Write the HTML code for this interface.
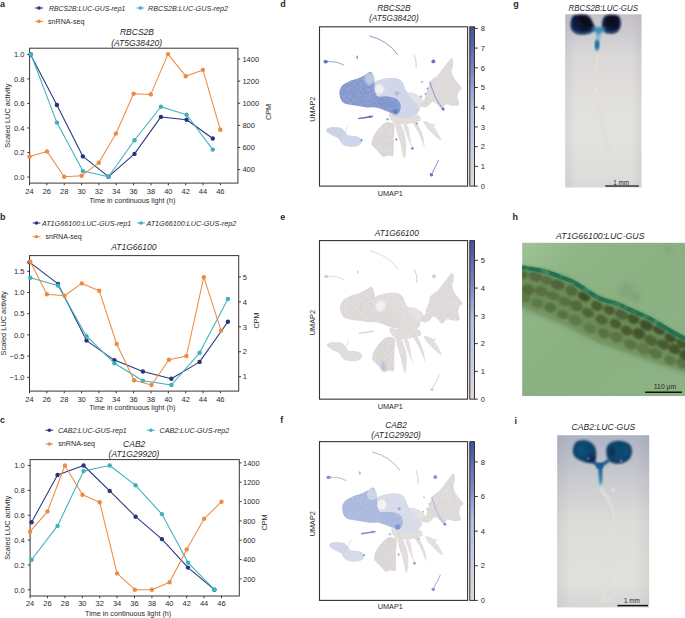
<!DOCTYPE html><html><head><meta charset="utf-8"><title>Figure</title><style>html,body{margin:0;padding:0;background:#fff;width:685px;height:618px;overflow:hidden}svg{display:block}text{font-family:"Liberation Sans",sans-serif;fill:#2a2a2a}</style></head><body>
<svg xmlns="http://www.w3.org/2000/svg" width="685" height="618" viewBox="0 0 685 618">
<rect width="685" height="618" fill="#fff"/>
<text x="0" y="7" font-size="9" font-weight="bold">a</text>
<text x="0" y="219.8" font-size="9" font-weight="bold">b</text>
<text x="0" y="423" font-size="9" font-weight="bold">c</text>
<rect x="29.6" y="48.2" width="208.3" height="134.9" fill="none" stroke="#3d3636" stroke-width="1"/>
<line x1="29.5" y1="183.1" x2="29.5" y2="185.3" stroke="#3d3636" stroke-width="1"/>
<text x="29.5" y="193.6" font-size="7.5" text-anchor="middle">24</text>
<line x1="46.85" y1="183.1" x2="46.85" y2="185.3" stroke="#3d3636" stroke-width="1"/>
<text x="46.85" y="193.6" font-size="7.5" text-anchor="middle">26</text>
<line x1="64.21" y1="183.1" x2="64.21" y2="185.3" stroke="#3d3636" stroke-width="1"/>
<text x="64.21" y="193.6" font-size="7.5" text-anchor="middle">28</text>
<line x1="81.56" y1="183.1" x2="81.56" y2="185.3" stroke="#3d3636" stroke-width="1"/>
<text x="81.56" y="193.6" font-size="7.5" text-anchor="middle">30</text>
<line x1="98.92" y1="183.1" x2="98.92" y2="185.3" stroke="#3d3636" stroke-width="1"/>
<text x="98.92" y="193.6" font-size="7.5" text-anchor="middle">32</text>
<line x1="116.27" y1="183.1" x2="116.27" y2="185.3" stroke="#3d3636" stroke-width="1"/>
<text x="116.27" y="193.6" font-size="7.5" text-anchor="middle">34</text>
<line x1="133.62" y1="183.1" x2="133.62" y2="185.3" stroke="#3d3636" stroke-width="1"/>
<text x="133.62" y="193.6" font-size="7.5" text-anchor="middle">36</text>
<line x1="150.98" y1="183.1" x2="150.98" y2="185.3" stroke="#3d3636" stroke-width="1"/>
<text x="150.98" y="193.6" font-size="7.5" text-anchor="middle">38</text>
<line x1="168.33" y1="183.1" x2="168.33" y2="185.3" stroke="#3d3636" stroke-width="1"/>
<text x="168.33" y="193.6" font-size="7.5" text-anchor="middle">40</text>
<line x1="185.69" y1="183.1" x2="185.69" y2="185.3" stroke="#3d3636" stroke-width="1"/>
<text x="185.69" y="193.6" font-size="7.5" text-anchor="middle">42</text>
<line x1="203.04" y1="183.1" x2="203.04" y2="185.3" stroke="#3d3636" stroke-width="1"/>
<text x="203.04" y="193.6" font-size="7.5" text-anchor="middle">44</text>
<line x1="220.39" y1="183.1" x2="220.39" y2="185.3" stroke="#3d3636" stroke-width="1"/>
<text x="220.39" y="193.6" font-size="7.5" text-anchor="middle">46</text>
<line x1="27.3" y1="177" x2="29.6" y2="177" stroke="#3d3636" stroke-width="1"/>
<text x="24.4" y="179.7" font-size="7.5" text-anchor="end">0.0</text>
<line x1="27.3" y1="152.48" x2="29.6" y2="152.48" stroke="#3d3636" stroke-width="1"/>
<text x="24.4" y="155.18" font-size="7.5" text-anchor="end">0.2</text>
<line x1="27.3" y1="127.96" x2="29.6" y2="127.96" stroke="#3d3636" stroke-width="1"/>
<text x="24.4" y="130.66" font-size="7.5" text-anchor="end">0.4</text>
<line x1="27.3" y1="103.44" x2="29.6" y2="103.44" stroke="#3d3636" stroke-width="1"/>
<text x="24.4" y="106.14" font-size="7.5" text-anchor="end">0.6</text>
<line x1="27.3" y1="78.92" x2="29.6" y2="78.92" stroke="#3d3636" stroke-width="1"/>
<text x="24.4" y="81.62" font-size="7.5" text-anchor="end">0.8</text>
<line x1="27.3" y1="54.4" x2="29.6" y2="54.4" stroke="#3d3636" stroke-width="1"/>
<text x="24.4" y="57.1" font-size="7.5" text-anchor="end">1.0</text>
<line x1="237.9" y1="169.6" x2="240.2" y2="169.6" stroke="#3d3636" stroke-width="1"/>
<text x="242.4" y="172.3" font-size="7.5">400</text>
<line x1="237.9" y1="147.48" x2="240.2" y2="147.48" stroke="#3d3636" stroke-width="1"/>
<text x="242.4" y="150.18" font-size="7.5">600</text>
<line x1="237.9" y1="125.36" x2="240.2" y2="125.36" stroke="#3d3636" stroke-width="1"/>
<text x="242.4" y="128.06" font-size="7.5">800</text>
<line x1="237.9" y1="103.24" x2="240.2" y2="103.24" stroke="#3d3636" stroke-width="1"/>
<text x="242.4" y="105.94" font-size="7.5">1000</text>
<line x1="237.9" y1="81.12" x2="240.2" y2="81.12" stroke="#3d3636" stroke-width="1"/>
<text x="242.4" y="83.82" font-size="7.5">1200</text>
<line x1="237.9" y1="59" x2="240.2" y2="59" stroke="#3d3636" stroke-width="1"/>
<text x="242.4" y="61.7" font-size="7.5">1400</text>
<text x="132.3" y="203.1" font-size="7.3" text-anchor="middle" textLength="86.2" lengthAdjust="spacingAndGlyphs">Time in continuous light (h)</text>
<text x="10.2" y="115.65" font-size="7.4" text-anchor="middle" transform="rotate(-90 10.2 115.65)">Scaled LUC activity</text>
<text x="270.8" y="112" font-size="7.3" text-anchor="middle" transform="rotate(-90 270.8 112)">CPM</text>
<polyline points="30.5,54.5 56.9,105 82.9,156.4 108.5,176.7 134.5,153.9 160.9,116.9 186.6,119.7 212.8,138.5" fill="none" stroke="#27357f" stroke-width="1.05" stroke-linejoin="round"/>
<circle cx="30.5" cy="54.5" r="2.2" fill="#27357f"/>
<circle cx="56.9" cy="105" r="2.2" fill="#27357f"/>
<circle cx="82.9" cy="156.4" r="2.2" fill="#27357f"/>
<circle cx="108.5" cy="176.7" r="2.2" fill="#27357f"/>
<circle cx="134.5" cy="153.9" r="2.2" fill="#27357f"/>
<circle cx="160.9" cy="116.9" r="2.2" fill="#27357f"/>
<circle cx="186.6" cy="119.7" r="2.2" fill="#27357f"/>
<circle cx="212.8" cy="138.5" r="2.2" fill="#27357f"/>
<polyline points="30.9,54.3 56.9,122.6 82.9,171.1 108.5,176.7 134.5,140.3 160.9,106.7 186.6,114.7 212.8,149.6" fill="none" stroke="#3db1ba" stroke-width="1.05" stroke-linejoin="round"/>
<circle cx="30.9" cy="54.3" r="2.2" fill="#3db1ba"/>
<circle cx="56.9" cy="122.6" r="2.2" fill="#3db1ba"/>
<circle cx="82.9" cy="171.1" r="2.2" fill="#3db1ba"/>
<circle cx="108.5" cy="176.7" r="2.2" fill="#3db1ba"/>
<circle cx="134.5" cy="140.3" r="2.2" fill="#3db1ba"/>
<circle cx="160.9" cy="106.7" r="2.2" fill="#3db1ba"/>
<circle cx="186.6" cy="114.7" r="2.2" fill="#3db1ba"/>
<circle cx="212.8" cy="149.6" r="2.2" fill="#3db1ba"/>
<polyline points="29.5,156.6 47,151.4 64.2,176.7 81.6,175.8 98.8,162.7 116,133.5 133.6,93.8 150.8,94.4 168,54.1 185.7,76.2 202.9,69.9 220.3,129.7" fill="none" stroke="#ec8b43" stroke-width="1.05" stroke-linejoin="round"/>
<circle cx="29.5" cy="156.6" r="2.2" fill="#ec8b43"/>
<circle cx="47" cy="151.4" r="2.2" fill="#ec8b43"/>
<circle cx="64.2" cy="176.7" r="2.2" fill="#ec8b43"/>
<circle cx="81.6" cy="175.8" r="2.2" fill="#ec8b43"/>
<circle cx="98.8" cy="162.7" r="2.2" fill="#ec8b43"/>
<circle cx="116" cy="133.5" r="2.2" fill="#ec8b43"/>
<circle cx="133.6" cy="93.8" r="2.2" fill="#ec8b43"/>
<circle cx="150.8" cy="94.4" r="2.2" fill="#ec8b43"/>
<circle cx="168" cy="54.1" r="2.2" fill="#ec8b43"/>
<circle cx="185.7" cy="76.2" r="2.2" fill="#ec8b43"/>
<circle cx="202.9" cy="69.9" r="2.2" fill="#ec8b43"/>
<circle cx="220.3" cy="129.7" r="2.2" fill="#ec8b43"/>
<line x1="35.1" y1="8" x2="43" y2="8" stroke="#27357f" stroke-width="1.05"/>
<circle cx="39.05" cy="8" r="1.8" fill="#27357f"/>
<text x="49.1" y="10.9" font-size="7.2" font-style="italic" textLength="76.2" lengthAdjust="spacingAndGlyphs">RBCS2B:LUC-GUS-rep1</text>
<line x1="136.6" y1="8" x2="144.2" y2="8" stroke="#3db1ba" stroke-width="1.05"/>
<circle cx="140.4" cy="8" r="1.8" fill="#3db1ba"/>
<text x="148" y="10.9" font-size="7.2" font-style="italic" textLength="80" lengthAdjust="spacingAndGlyphs">RBCS2B:LUC-GUS-rep2</text>
<line x1="35.1" y1="21.4" x2="43" y2="21.4" stroke="#ec8b43" stroke-width="1.05"/>
<circle cx="39.05" cy="21.4" r="1.8" fill="#ec8b43"/>
<text x="48" y="23.8" font-size="7.2" textLength="36.4" lengthAdjust="spacingAndGlyphs">snRNA-seq</text>
<text x="137" y="35.4" font-size="8.5" text-anchor="middle" font-style="italic">RBCS2B</text>
<text x="136.6" y="45.9" font-size="8.5" text-anchor="middle" font-style="italic">(AT5G38420)</text>
<rect x="29.5" y="255.6" width="209.2" height="135.5" fill="none" stroke="#3d3636" stroke-width="1"/>
<line x1="29.5" y1="391.1" x2="29.5" y2="393.3" stroke="#3d3636" stroke-width="1"/>
<text x="29.5" y="401.5" font-size="7.5" text-anchor="middle">24</text>
<line x1="46.85" y1="391.1" x2="46.85" y2="393.3" stroke="#3d3636" stroke-width="1"/>
<text x="46.85" y="401.5" font-size="7.5" text-anchor="middle">26</text>
<line x1="64.21" y1="391.1" x2="64.21" y2="393.3" stroke="#3d3636" stroke-width="1"/>
<text x="64.21" y="401.5" font-size="7.5" text-anchor="middle">28</text>
<line x1="81.56" y1="391.1" x2="81.56" y2="393.3" stroke="#3d3636" stroke-width="1"/>
<text x="81.56" y="401.5" font-size="7.5" text-anchor="middle">30</text>
<line x1="98.92" y1="391.1" x2="98.92" y2="393.3" stroke="#3d3636" stroke-width="1"/>
<text x="98.92" y="401.5" font-size="7.5" text-anchor="middle">32</text>
<line x1="116.27" y1="391.1" x2="116.27" y2="393.3" stroke="#3d3636" stroke-width="1"/>
<text x="116.27" y="401.5" font-size="7.5" text-anchor="middle">34</text>
<line x1="133.62" y1="391.1" x2="133.62" y2="393.3" stroke="#3d3636" stroke-width="1"/>
<text x="133.62" y="401.5" font-size="7.5" text-anchor="middle">36</text>
<line x1="150.98" y1="391.1" x2="150.98" y2="393.3" stroke="#3d3636" stroke-width="1"/>
<text x="150.98" y="401.5" font-size="7.5" text-anchor="middle">38</text>
<line x1="168.33" y1="391.1" x2="168.33" y2="393.3" stroke="#3d3636" stroke-width="1"/>
<text x="168.33" y="401.5" font-size="7.5" text-anchor="middle">40</text>
<line x1="185.69" y1="391.1" x2="185.69" y2="393.3" stroke="#3d3636" stroke-width="1"/>
<text x="185.69" y="401.5" font-size="7.5" text-anchor="middle">42</text>
<line x1="203.04" y1="391.1" x2="203.04" y2="393.3" stroke="#3d3636" stroke-width="1"/>
<text x="203.04" y="401.5" font-size="7.5" text-anchor="middle">44</text>
<line x1="220.39" y1="391.1" x2="220.39" y2="393.3" stroke="#3d3636" stroke-width="1"/>
<text x="220.39" y="401.5" font-size="7.5" text-anchor="middle">46</text>
<line x1="27.2" y1="377.3" x2="29.5" y2="377.3" stroke="#3d3636" stroke-width="1"/>
<text x="24.4" y="380" font-size="7.5" text-anchor="end">−1.0</text>
<line x1="27.2" y1="356.1" x2="29.5" y2="356.1" stroke="#3d3636" stroke-width="1"/>
<text x="24.4" y="358.8" font-size="7.5" text-anchor="end">−0.5</text>
<line x1="27.2" y1="334.9" x2="29.5" y2="334.9" stroke="#3d3636" stroke-width="1"/>
<text x="24.4" y="337.6" font-size="7.5" text-anchor="end">0.0</text>
<line x1="27.2" y1="313.7" x2="29.5" y2="313.7" stroke="#3d3636" stroke-width="1"/>
<text x="24.4" y="316.4" font-size="7.5" text-anchor="end">0.5</text>
<line x1="27.2" y1="292.5" x2="29.5" y2="292.5" stroke="#3d3636" stroke-width="1"/>
<text x="24.4" y="295.2" font-size="7.5" text-anchor="end">1.0</text>
<line x1="27.2" y1="271.3" x2="29.5" y2="271.3" stroke="#3d3636" stroke-width="1"/>
<text x="24.4" y="274" font-size="7.5" text-anchor="end">1.5</text>
<line x1="238.7" y1="376.7" x2="241" y2="376.7" stroke="#3d3636" stroke-width="1"/>
<text x="242.8" y="379.4" font-size="7.5">1</text>
<line x1="238.7" y1="351.75" x2="241" y2="351.75" stroke="#3d3636" stroke-width="1"/>
<text x="242.8" y="354.45" font-size="7.5">2</text>
<line x1="238.7" y1="326.8" x2="241" y2="326.8" stroke="#3d3636" stroke-width="1"/>
<text x="242.8" y="329.5" font-size="7.5">3</text>
<line x1="238.7" y1="301.85" x2="241" y2="301.85" stroke="#3d3636" stroke-width="1"/>
<text x="242.8" y="304.55" font-size="7.5">4</text>
<line x1="238.7" y1="276.9" x2="241" y2="276.9" stroke="#3d3636" stroke-width="1"/>
<text x="242.8" y="279.6" font-size="7.5">5</text>
<text x="132.3" y="409.9" font-size="7.3" text-anchor="middle" textLength="86.2" lengthAdjust="spacingAndGlyphs">Time in continuous light (h)</text>
<text x="6.3" y="323.35" font-size="7.4" text-anchor="middle" transform="rotate(-90 6.3 323.35)">Scaled LUC activity</text>
<text x="259" y="320.5" font-size="7.3" text-anchor="middle" transform="rotate(-90 259 320.5)">CPM</text>
<polyline points="29.5,262.2 58,283.9 86.5,340.6 114.4,360.1 142.9,371.5 171.4,378.8 199.6,361.9 227.9,321.8" fill="none" stroke="#27357f" stroke-width="1.05" stroke-linejoin="round"/>
<circle cx="29.5" cy="262.2" r="2.2" fill="#27357f"/>
<circle cx="58" cy="283.9" r="2.2" fill="#27357f"/>
<circle cx="86.5" cy="340.6" r="2.2" fill="#27357f"/>
<circle cx="114.4" cy="360.1" r="2.2" fill="#27357f"/>
<circle cx="142.9" cy="371.5" r="2.2" fill="#27357f"/>
<circle cx="171.4" cy="378.8" r="2.2" fill="#27357f"/>
<circle cx="199.6" cy="361.9" r="2.2" fill="#27357f"/>
<circle cx="227.9" cy="321.8" r="2.2" fill="#27357f"/>
<polyline points="30.3,277.7 58,285.5 86.5,336.2 114.4,363.2 142.9,380.8 171.4,385 199.6,352.8 227.9,299" fill="none" stroke="#3db1ba" stroke-width="1.05" stroke-linejoin="round"/>
<circle cx="30.3" cy="277.7" r="2.2" fill="#3db1ba"/>
<circle cx="58" cy="285.5" r="2.2" fill="#3db1ba"/>
<circle cx="86.5" cy="336.2" r="2.2" fill="#3db1ba"/>
<circle cx="114.4" cy="363.2" r="2.2" fill="#3db1ba"/>
<circle cx="142.9" cy="380.8" r="2.2" fill="#3db1ba"/>
<circle cx="171.4" cy="385" r="2.2" fill="#3db1ba"/>
<circle cx="199.6" cy="352.8" r="2.2" fill="#3db1ba"/>
<circle cx="227.9" cy="299" r="2.2" fill="#3db1ba"/>
<polyline points="30.3,261.7 46.9,294.3 64.5,295.8 81.8,283.4 99.2,290.7 116.7,344 134.1,380.3 151.5,385 169,359.8 186.4,356 203.8,277.2 221.1,330.6" fill="none" stroke="#ec8b43" stroke-width="1.05" stroke-linejoin="round"/>
<circle cx="30.3" cy="261.7" r="2.2" fill="#ec8b43"/>
<circle cx="46.9" cy="294.3" r="2.2" fill="#ec8b43"/>
<circle cx="64.5" cy="295.8" r="2.2" fill="#ec8b43"/>
<circle cx="81.8" cy="283.4" r="2.2" fill="#ec8b43"/>
<circle cx="99.2" cy="290.7" r="2.2" fill="#ec8b43"/>
<circle cx="116.7" cy="344" r="2.2" fill="#ec8b43"/>
<circle cx="134.1" cy="380.3" r="2.2" fill="#ec8b43"/>
<circle cx="151.5" cy="385" r="2.2" fill="#ec8b43"/>
<circle cx="169" cy="359.8" r="2.2" fill="#ec8b43"/>
<circle cx="186.4" cy="356" r="2.2" fill="#ec8b43"/>
<circle cx="203.8" cy="277.2" r="2.2" fill="#ec8b43"/>
<circle cx="221.1" cy="330.6" r="2.2" fill="#ec8b43"/>
<line x1="32.7" y1="223" x2="40.3" y2="223" stroke="#27357f" stroke-width="1.05"/>
<circle cx="36.5" cy="223" r="1.8" fill="#27357f"/>
<text x="41.9" y="225.8" font-size="7.2" font-style="italic" textLength="89.4" lengthAdjust="spacingAndGlyphs">AT1G66100:LUC-GUS-rep1</text>
<line x1="137.2" y1="223" x2="144.9" y2="223" stroke="#3db1ba" stroke-width="1.05"/>
<circle cx="141.05" cy="223" r="1.8" fill="#3db1ba"/>
<text x="146.4" y="225.8" font-size="7.2" font-style="italic" textLength="89.8" lengthAdjust="spacingAndGlyphs">AT1G66100:LUC-GUS-rep2</text>
<line x1="32.7" y1="236.7" x2="40.3" y2="236.7" stroke="#ec8b43" stroke-width="1.05"/>
<circle cx="36.5" cy="236.7" r="1.8" fill="#ec8b43"/>
<text x="45.4" y="238.9" font-size="7.2" textLength="36.3" lengthAdjust="spacingAndGlyphs">snRNA-seq</text>
<text x="133.8" y="250.3" font-size="8.5" text-anchor="middle" font-style="italic">AT1G66100</text>
<rect x="30.1" y="459.6" width="209.2" height="136.4" fill="none" stroke="#3d3636" stroke-width="1"/>
<line x1="30.1" y1="596" x2="30.1" y2="598.2" stroke="#3d3636" stroke-width="1"/>
<text x="30.1" y="606.4" font-size="7.5" text-anchor="middle">24</text>
<line x1="47.5" y1="596" x2="47.5" y2="598.2" stroke="#3d3636" stroke-width="1"/>
<text x="47.5" y="606.4" font-size="7.5" text-anchor="middle">26</text>
<line x1="64.9" y1="596" x2="64.9" y2="598.2" stroke="#3d3636" stroke-width="1"/>
<text x="64.9" y="606.4" font-size="7.5" text-anchor="middle">28</text>
<line x1="82.3" y1="596" x2="82.3" y2="598.2" stroke="#3d3636" stroke-width="1"/>
<text x="82.3" y="606.4" font-size="7.5" text-anchor="middle">30</text>
<line x1="99.7" y1="596" x2="99.7" y2="598.2" stroke="#3d3636" stroke-width="1"/>
<text x="99.7" y="606.4" font-size="7.5" text-anchor="middle">32</text>
<line x1="117.1" y1="596" x2="117.1" y2="598.2" stroke="#3d3636" stroke-width="1"/>
<text x="117.1" y="606.4" font-size="7.5" text-anchor="middle">34</text>
<line x1="134.5" y1="596" x2="134.5" y2="598.2" stroke="#3d3636" stroke-width="1"/>
<text x="134.5" y="606.4" font-size="7.5" text-anchor="middle">36</text>
<line x1="151.9" y1="596" x2="151.9" y2="598.2" stroke="#3d3636" stroke-width="1"/>
<text x="151.9" y="606.4" font-size="7.5" text-anchor="middle">38</text>
<line x1="169.3" y1="596" x2="169.3" y2="598.2" stroke="#3d3636" stroke-width="1"/>
<text x="169.3" y="606.4" font-size="7.5" text-anchor="middle">40</text>
<line x1="186.7" y1="596" x2="186.7" y2="598.2" stroke="#3d3636" stroke-width="1"/>
<text x="186.7" y="606.4" font-size="7.5" text-anchor="middle">42</text>
<line x1="204.1" y1="596" x2="204.1" y2="598.2" stroke="#3d3636" stroke-width="1"/>
<text x="204.1" y="606.4" font-size="7.5" text-anchor="middle">44</text>
<line x1="221.5" y1="596" x2="221.5" y2="598.2" stroke="#3d3636" stroke-width="1"/>
<text x="221.5" y="606.4" font-size="7.5" text-anchor="middle">46</text>
<line x1="27.8" y1="589.8" x2="30.1" y2="589.8" stroke="#3d3636" stroke-width="1"/>
<text x="24.6" y="592.5" font-size="7.5" text-anchor="end">0.0</text>
<line x1="27.8" y1="564.94" x2="30.1" y2="564.94" stroke="#3d3636" stroke-width="1"/>
<text x="24.6" y="567.64" font-size="7.5" text-anchor="end">0.2</text>
<line x1="27.8" y1="540.08" x2="30.1" y2="540.08" stroke="#3d3636" stroke-width="1"/>
<text x="24.6" y="542.78" font-size="7.5" text-anchor="end">0.4</text>
<line x1="27.8" y1="515.22" x2="30.1" y2="515.22" stroke="#3d3636" stroke-width="1"/>
<text x="24.6" y="517.92" font-size="7.5" text-anchor="end">0.6</text>
<line x1="27.8" y1="490.36" x2="30.1" y2="490.36" stroke="#3d3636" stroke-width="1"/>
<text x="24.6" y="493.06" font-size="7.5" text-anchor="end">0.8</text>
<line x1="27.8" y1="465.5" x2="30.1" y2="465.5" stroke="#3d3636" stroke-width="1"/>
<text x="24.6" y="468.2" font-size="7.5" text-anchor="end">1.0</text>
<line x1="239.3" y1="578.9" x2="241.6" y2="578.9" stroke="#3d3636" stroke-width="1"/>
<text x="243" y="581.6" font-size="7.5">200</text>
<line x1="239.3" y1="559.57" x2="241.6" y2="559.57" stroke="#3d3636" stroke-width="1"/>
<text x="243" y="562.27" font-size="7.5">400</text>
<line x1="239.3" y1="540.24" x2="241.6" y2="540.24" stroke="#3d3636" stroke-width="1"/>
<text x="243" y="542.94" font-size="7.5">600</text>
<line x1="239.3" y1="520.9" x2="241.6" y2="520.9" stroke="#3d3636" stroke-width="1"/>
<text x="243" y="523.6" font-size="7.5">800</text>
<line x1="239.3" y1="501.57" x2="241.6" y2="501.57" stroke="#3d3636" stroke-width="1"/>
<text x="243" y="504.27" font-size="7.5">1000</text>
<line x1="239.3" y1="482.23" x2="241.6" y2="482.23" stroke="#3d3636" stroke-width="1"/>
<text x="243" y="484.93" font-size="7.5">1200</text>
<line x1="239.3" y1="462.9" x2="241.6" y2="462.9" stroke="#3d3636" stroke-width="1"/>
<text x="243" y="465.6" font-size="7.5">1400</text>
<text x="128.1" y="616" font-size="7.3" text-anchor="middle" textLength="86.2" lengthAdjust="spacingAndGlyphs">Time in continuous light (h)</text>
<text x="10.5" y="527.8" font-size="7.4" text-anchor="middle" transform="rotate(-90 10.5 527.8)">Scaled LUC activity</text>
<text x="266.9" y="522.4" font-size="7.3" text-anchor="middle" transform="rotate(-90 266.9 522.4)">CPM</text>
<polyline points="31.6,522.2 57.5,475 83.6,465.5 109.7,490.9 135.6,516.7 161.9,539.1 188,567.6 214.4,589.7" fill="none" stroke="#27357f" stroke-width="1.05" stroke-linejoin="round"/>
<circle cx="31.6" cy="522.2" r="2.2" fill="#27357f"/>
<circle cx="57.5" cy="475" r="2.2" fill="#27357f"/>
<circle cx="83.6" cy="465.5" r="2.2" fill="#27357f"/>
<circle cx="109.7" cy="490.9" r="2.2" fill="#27357f"/>
<circle cx="135.6" cy="516.7" r="2.2" fill="#27357f"/>
<circle cx="161.9" cy="539.1" r="2.2" fill="#27357f"/>
<circle cx="188" cy="567.6" r="2.2" fill="#27357f"/>
<circle cx="214.4" cy="589.7" r="2.2" fill="#27357f"/>
<polyline points="31.6,559.7 57.5,525.9 83.6,471.1 109.7,465.5 135.6,485.3 161.9,514.1 188,562.6 214.4,589.7" fill="none" stroke="#3db1ba" stroke-width="1.05" stroke-linejoin="round"/>
<circle cx="31.6" cy="559.7" r="2.2" fill="#3db1ba"/>
<circle cx="57.5" cy="525.9" r="2.2" fill="#3db1ba"/>
<circle cx="83.6" cy="471.1" r="2.2" fill="#3db1ba"/>
<circle cx="109.7" cy="465.5" r="2.2" fill="#3db1ba"/>
<circle cx="135.6" cy="485.3" r="2.2" fill="#3db1ba"/>
<circle cx="161.9" cy="514.1" r="2.2" fill="#3db1ba"/>
<circle cx="188" cy="562.6" r="2.2" fill="#3db1ba"/>
<circle cx="214.4" cy="589.7" r="2.2" fill="#3db1ba"/>
<polyline points="30.1,531.7 47.5,511.4 64.9,465.5 82.5,494.8 99.7,502.2 117.1,573.4 134.8,589.7 151.9,589.7 169.6,582.3 186.7,549.4 204.1,518.8 221.5,501.7" fill="none" stroke="#ec8b43" stroke-width="1.05" stroke-linejoin="round"/>
<circle cx="30.1" cy="531.7" r="2.2" fill="#ec8b43"/>
<circle cx="47.5" cy="511.4" r="2.2" fill="#ec8b43"/>
<circle cx="64.9" cy="465.5" r="2.2" fill="#ec8b43"/>
<circle cx="82.5" cy="494.8" r="2.2" fill="#ec8b43"/>
<circle cx="99.7" cy="502.2" r="2.2" fill="#ec8b43"/>
<circle cx="117.1" cy="573.4" r="2.2" fill="#ec8b43"/>
<circle cx="134.8" cy="589.7" r="2.2" fill="#ec8b43"/>
<circle cx="151.9" cy="589.7" r="2.2" fill="#ec8b43"/>
<circle cx="169.6" cy="582.3" r="2.2" fill="#ec8b43"/>
<circle cx="186.7" cy="549.4" r="2.2" fill="#ec8b43"/>
<circle cx="204.1" cy="518.8" r="2.2" fill="#ec8b43"/>
<circle cx="221.5" cy="501.7" r="2.2" fill="#ec8b43"/>
<line x1="45.6" y1="430.2" x2="53.1" y2="430.2" stroke="#27357f" stroke-width="1.05"/>
<circle cx="49.35" cy="430.2" r="1.8" fill="#27357f"/>
<text x="57.9" y="432.8" font-size="7.2" font-style="italic" textLength="68.9" lengthAdjust="spacingAndGlyphs">CAB2:LUC-GUS-rep1</text>
<line x1="147.1" y1="430.3" x2="154.7" y2="430.3" stroke="#3db1ba" stroke-width="1.05"/>
<circle cx="150.9" cy="430.3" r="1.8" fill="#3db1ba"/>
<text x="159.6" y="432.8" font-size="7.2" font-style="italic" textLength="69.6" lengthAdjust="spacingAndGlyphs">CAB2:LUC-GUS-rep2</text>
<line x1="45.6" y1="444" x2="53.1" y2="444" stroke="#ec8b43" stroke-width="1.05"/>
<circle cx="49.35" cy="444" r="1.8" fill="#ec8b43"/>
<text x="58.2" y="446.3" font-size="7.2" textLength="36.8" lengthAdjust="spacingAndGlyphs">snRNA-seq</text>
<text x="134.2" y="446.5" font-size="8.5" text-anchor="middle" font-style="italic">CAB2</text>
<text x="134" y="456.5" font-size="8.5" text-anchor="middle" font-style="italic">(AT1G29920)</text>
<defs>
<linearGradient id="cbgrad" x1="0" y1="0" x2="0" y2="1"><stop offset="0" stop-color="#3f549e"/><stop offset="0.026" stop-color="#4358a0"/><stop offset="0.252" stop-color="#7282bb"/><stop offset="0.378" stop-color="#90a2cf"/><stop offset="0.497" stop-color="#abc1e0"/><stop offset="0.629" stop-color="#b8c6e2"/><stop offset="0.755" stop-color="#c4cee4"/><stop offset="0.975" stop-color="#dbdada"/><stop offset="1" stop-color="#dcdbdb"/></linearGradient>
<filter id="grain" x="-10%" y="-10%" width="120%" height="120%"><feTurbulence type="fractalNoise" baseFrequency="1.1" numOctaves="1" seed="4" result="n"/><feColorMatrix in="n" type="matrix" values="0 0 0 0 0 0 0 0 0 0 0 0 0 0 0 0 0 0 -1.0 1.45" result="na"/><feComposite in="SourceGraphic" in2="na" operator="in"/><feGaussianBlur stdDeviation="0.7"/></filter>
<filter id="grain2" x="-5%" y="-5%" width="110%" height="110%"><feTurbulence type="fractalNoise" baseFrequency="1.1" numOctaves="1" seed="9" result="n"/><feColorMatrix in="n" type="matrix" values="0 0 0 0 0 0 0 0 0 0 0 0 0 0 0 0 0 0 -1.2 1.55" result="na"/><feComposite in="SourceGraphic" in2="na" operator="in"/><feGaussianBlur stdDeviation="0.45"/></filter>
<filter id="soft" x="-50%" y="-50%" width="200%" height="200%"><feGaussianBlur stdDeviation="0.8"/></filter>
</defs>
<g transform="translate(319.5,26.8) ">
<path d="M19.90,66.10 C19.90,63.42 21.10,60.75 22.80,58.80 C24.50,56.85 27.42,55.62 30.10,54.40 C32.78,53.18 36.22,52.57 38.90,51.50 C41.58,50.43 44.15,49.07 46.20,48.00 C48.25,46.93 49.88,44.75 51.20,45.10 C52.52,45.45 53.47,48.07 54.10,50.10 C54.73,52.13 54.72,54.88 55.00,57.30 C55.28,59.72 55.18,62.55 55.80,64.60 C56.42,66.65 56.65,68.77 58.70,69.60 C60.75,70.43 65.07,69.22 68.10,69.60 C71.13,69.98 74.72,70.53 76.90,71.90 C79.08,73.27 80.72,75.60 81.20,77.80 C81.68,80.00 81.02,83.65 79.80,85.10 C78.58,86.55 76.33,86.75 73.90,86.50 C71.47,86.25 68.12,84.57 65.20,83.60 C62.28,82.63 59.32,81.18 56.40,80.70 C53.48,80.22 50.62,80.95 47.70,80.70 C44.78,80.45 41.83,79.68 38.90,79.20 C35.97,78.72 32.78,78.52 30.10,77.80 C27.42,77.08 24.50,76.85 22.80,74.90 C21.10,72.95 19.90,68.78 19.90,66.10 Z" fill="#dbd7d6" filter="url(#grain)"/>
<path d="M54.50,56.50 C55.23,54.32 58.53,53.83 60.80,53.00 C63.07,52.17 65.42,51.75 68.10,51.50 C70.78,51.25 74.47,50.92 76.90,51.50 C79.33,52.08 81.15,53.05 82.70,55.00 C84.25,56.95 84.83,60.77 86.20,63.20 C87.57,65.63 89.30,67.57 90.90,69.60 C92.50,71.63 94.25,73.45 95.80,75.40 C97.35,77.35 99.95,79.35 100.20,81.30 C100.45,83.25 99.00,85.63 97.30,87.10 C95.60,88.57 92.68,89.42 90.00,90.10 C87.32,90.78 83.38,91.30 81.20,91.20 C79.02,91.10 77.13,91.25 76.90,89.50 C76.67,87.75 80.30,83.38 79.80,80.70 C79.30,78.02 76.82,75.10 73.90,73.40 C70.98,71.70 65.22,71.72 62.30,70.50 C59.38,69.28 57.70,68.43 56.40,66.10 C55.10,63.77 53.77,58.68 54.50,56.50 Z" fill="#dddad9" filter="url(#grain)"/>
<path d="M88.00,66.00 C88.83,64.75 92.83,65.83 95.00,66.50 C97.17,67.17 99.40,68.42 101.00,70.00 C102.60,71.58 104.60,74.25 104.60,76.00 C104.60,77.75 102.60,79.83 101.00,80.50 C99.40,81.17 96.83,81.08 95.00,80.00 C93.17,78.92 91.17,76.33 90.00,74.00 C88.83,71.67 87.17,67.25 88.00,66.00 Z" fill="#e3e0df" filter="url(#grain)"/>
<path d="M100.20,77.80 C100.20,76.58 103.63,75.10 104.60,73.40 C105.57,71.70 105.27,69.78 106.00,67.60 C106.73,65.42 108.27,62.50 109.00,60.30 C109.73,58.10 108.95,56.35 110.40,54.40 C111.85,52.45 115.50,50.78 117.70,48.60 C119.90,46.42 121.88,43.50 123.60,41.30 C125.32,39.10 126.55,37.10 128.00,35.40 C129.45,33.70 131.33,30.85 132.30,31.10 C133.27,31.35 133.80,34.72 133.80,36.90 C133.80,39.08 132.15,41.77 132.30,44.20 C132.45,46.63 133.72,49.55 134.70,51.50 C135.68,53.45 136.90,54.20 138.20,55.90 C139.50,57.60 142.27,60.25 142.50,61.70 C142.73,63.15 140.32,63.13 139.60,64.60 C138.88,66.07 138.20,68.30 138.20,70.50 C138.20,72.70 140.33,76.35 139.60,77.80 C138.87,79.25 135.98,79.20 133.80,79.20 C131.62,79.20 128.45,77.30 126.50,77.80 C124.55,78.30 123.57,82.20 122.10,82.20 C120.63,82.20 119.17,79.02 117.70,77.80 C116.23,76.58 114.75,74.67 113.30,74.90 C111.85,75.13 110.45,78.23 109.00,79.20 C107.55,80.17 106.07,80.93 104.60,80.70 C103.13,80.47 100.20,79.02 100.20,77.80 Z" fill="#dcd8d7" filter="url(#grain)"/>
<path d="M6.80,102.60 C7.53,101.77 10.17,100.75 12.60,100.50 C15.03,100.25 19.20,100.27 21.40,101.10 C23.60,101.93 24.58,104.13 25.80,105.50 C27.02,106.87 27.25,108.67 28.70,109.30 C30.15,109.93 32.55,108.97 34.50,109.30 C36.45,109.63 39.18,110.23 40.40,111.30 C41.62,112.37 42.30,114.38 41.80,115.70 C41.30,117.02 39.58,118.57 37.40,119.20 C35.22,119.83 31.13,119.83 28.70,119.50 C26.27,119.17 24.50,118.57 22.80,117.20 C21.10,115.83 20.20,112.77 18.50,111.30 C16.80,109.83 14.32,109.37 12.60,108.40 C10.88,107.43 9.17,106.47 8.20,105.50 C7.23,104.53 6.07,103.43 6.80,102.60 Z" fill="#dedad9" filter="url(#grain)"/>
<path d="M52.30,114.90 C52.55,113.48 52.95,111.63 53.80,109.80 C54.65,107.97 56.18,105.60 57.40,103.90 C58.62,102.20 59.88,100.82 61.10,99.60 C62.32,98.38 63.48,97.33 64.70,96.60 C65.92,95.87 67.18,95.32 68.40,95.20 C69.62,95.08 70.92,95.67 72.00,95.90 C73.08,96.13 74.42,95.38 74.90,96.60 C75.38,97.82 75.02,100.63 74.90,103.20 C74.78,105.77 74.32,109.08 74.20,112.00 C74.08,114.92 74.32,117.78 74.20,120.70 C74.08,123.62 74.35,128.15 73.50,129.50 C72.65,130.85 70.68,128.68 69.10,128.80 C67.52,128.92 65.47,130.57 64.00,130.20 C62.53,129.83 61.63,127.93 60.30,126.60 C58.97,125.27 57.33,123.58 56.00,122.20 C54.67,120.82 52.92,119.52 52.30,118.30 C51.68,117.08 52.05,116.32 52.30,114.90 Z" fill="#d9d5d4" filter="url(#grain)"/>
<path d="M70.00,86.50 C72.00,85.58 79.33,88.25 84.00,88.50 C88.67,88.75 95.17,87.17 98.00,88.00 C100.83,88.83 101.67,92.17 101.00,93.50 C100.33,94.83 96.50,95.33 94.00,96.00 C91.50,96.67 88.67,97.33 86.00,97.50 C83.33,97.67 80.33,97.58 78.00,97.00 C75.67,96.42 73.33,95.75 72.00,94.00 C70.67,92.25 68.00,87.42 70.00,86.50 Z" fill="#dfdbda" filter="url(#grain)"/>
<path d="M75.70,94.50 C75.33,96.20 76.25,101.05 77.10,104.70 C77.95,108.35 79.70,112.27 80.80,116.40 C81.90,120.53 82.85,127.32 83.70,129.50 C84.55,131.68 85.42,131.93 85.90,129.50 C86.38,127.07 86.97,119.28 86.60,114.90 C86.23,110.52 84.92,106.60 83.70,103.20 C82.48,99.80 80.63,95.95 79.30,94.50 C77.97,93.05 76.07,92.80 75.70,94.50 Z" fill="#dfdbda" filter="url(#grain)"/>
<path d="M83.70,97.40 C83.93,100.08 87.80,110.77 89.50,114.90 C91.20,119.03 93.53,121.95 93.90,122.20 C94.27,122.45 92.30,118.83 91.70,116.40 C91.10,113.97 90.90,110.53 90.30,107.60 C89.70,104.67 89.20,100.50 88.10,98.80 C87.00,97.10 83.47,94.72 83.70,97.40 Z" fill="#e2dedd" filter="url(#grain)"/>
<path d="M92.50,94.50 C92.98,96.45 96.60,101.30 98.30,104.70 C100.00,108.10 101.60,112.35 102.70,114.90 C103.80,117.45 104.67,120.48 104.90,120.00 C105.13,119.52 104.83,115.03 104.10,112.00 C103.37,108.97 101.95,104.97 100.50,101.80 C99.05,98.63 96.73,94.22 95.40,93.00 C94.07,91.78 92.02,92.55 92.50,94.50 Z" fill="#dfdbda" filter="url(#grain)"/>
<path d="M104.10,94.50 C104.58,93.90 107.03,94.72 108.50,95.20 C109.97,95.68 111.68,97.17 112.90,97.40 C114.12,97.63 115.55,96.12 115.80,96.60 C116.05,97.08 114.15,99.08 114.40,100.30 C114.65,101.52 116.08,101.83 117.30,103.90 C118.52,105.97 121.47,111.35 121.70,112.70 C121.93,114.05 120.17,112.97 118.70,112.00 C117.23,111.03 114.60,108.48 112.90,106.90 C111.20,105.32 109.72,103.85 108.50,102.50 C107.28,101.15 106.33,100.13 105.60,98.80 C104.87,97.47 103.62,95.10 104.10,94.50 Z" fill="#e1dddc" filter="url(#grain)"/>
<path d="M50,9.2 Q68.1,13.5 78.3,28.1" fill="none" stroke="#d0d0d0" stroke-width="0.8"/>
<path d="M94.4,27.6 Q97.5,34 96.7,41.3" fill="none" stroke="#d2d2d2" stroke-width="1"/>
<path d="M6.2,34.9 Q17,34 24.3,38.4" fill="none" stroke="#d6d6d6" stroke-width="0.8"/>
<ellipse cx="6.2" cy="34.9" rx="2.2" ry="1.6" fill="#d0d0d0"/>
<ellipse cx="37.7" cy="30.5" rx="0.8" ry="1.7" fill="#d0d0d0"/>
<path d="M119.2,133.2 Q115.5,141 111.9,147.6" fill="none" stroke="#d4d4d4" stroke-width="1"/>
<circle cx="111.9" cy="147.9" r="1.6" fill="#d0d0d0"/>
<circle cx="113.9" cy="34.6" r="1.9" fill="#d0d0d0"/>
<path d="M38.9,91.8 Q46,91 53.5,89.5" fill="none" stroke="#d4d4d4" stroke-width="1.2"/>
<path d="M25.8,105.5 L28.7,97.6" fill="none" stroke="#d8d8d8" stroke-width="0.7"/>
<path d="M54.50,56.50 C55.23,54.32 58.53,53.83 60.80,53.00 C63.07,52.17 65.42,51.75 68.10,51.50 C70.78,51.25 74.47,50.92 76.90,51.50 C79.33,52.08 81.15,53.05 82.70,55.00 C84.25,56.95 84.83,60.77 86.20,63.20 C87.57,65.63 89.30,67.57 90.90,69.60 C92.50,71.63 94.25,73.45 95.80,75.40 C97.35,77.35 99.95,79.35 100.20,81.30 C100.45,83.25 99.00,85.63 97.30,87.10 C95.60,88.57 92.68,89.42 90.00,90.10 C87.32,90.78 83.38,91.30 81.20,91.20 C79.02,91.10 77.13,91.25 76.90,89.50 C76.67,87.75 80.30,83.38 79.80,80.70 C79.30,78.02 76.82,75.10 73.90,73.40 C70.98,71.70 65.22,71.72 62.30,70.50 C59.38,69.28 57.70,68.43 56.40,66.10 C55.10,63.77 53.77,58.68 54.50,56.50 Z" fill="#d0d6ea" filter="url(#grain)"/>
<path d="M19.90,66.10 C19.90,63.42 21.10,60.75 22.80,58.80 C24.50,56.85 27.42,55.62 30.10,54.40 C32.78,53.18 36.22,52.57 38.90,51.50 C41.58,50.43 44.15,49.07 46.20,48.00 C48.25,46.93 49.88,44.75 51.20,45.10 C52.52,45.45 53.47,48.07 54.10,50.10 C54.73,52.13 54.72,54.88 55.00,57.30 C55.28,59.72 55.18,62.55 55.80,64.60 C56.42,66.65 56.65,68.77 58.70,69.60 C60.75,70.43 65.07,69.22 68.10,69.60 C71.13,69.98 74.72,70.53 76.90,71.90 C79.08,73.27 80.72,75.60 81.20,77.80 C81.68,80.00 81.02,83.65 79.80,85.10 C78.58,86.55 76.33,86.75 73.90,86.50 C71.47,86.25 68.12,84.57 65.20,83.60 C62.28,82.63 59.32,81.18 56.40,80.70 C53.48,80.22 50.62,80.95 47.70,80.70 C44.78,80.45 41.83,79.68 38.90,79.20 C35.97,78.72 32.78,78.52 30.10,77.80 C27.42,77.08 24.50,76.85 22.80,74.90 C21.10,72.95 19.90,68.78 19.90,66.10 Z" fill="#8197cd" filter="url(#grain2)"/>
<ellipse cx="59.9" cy="62.5" rx="4.6" ry="5" fill="#f6f6f6" opacity="0.9" filter="url(#soft)"/>
<ellipse cx="50" cy="52" rx="5" ry="6" fill="#d0d6ea" opacity="0.8" filter="url(#soft)"/>
<ellipse cx="66" cy="76" rx="10" ry="4.5" transform="rotate(12 66 76)" fill="#8197cd" opacity="0.8" filter="url(#soft)"/>
<circle cx="76" cy="85" r="2.8" fill="#5d75c2" opacity="0.9" filter="url(#soft)"/>
<circle cx="77.5" cy="66.5" r="1.6" fill="#5d75c2" opacity="0.6" filter="url(#soft)"/>
<path d="M6.80,102.60 C7.53,101.77 10.17,100.75 12.60,100.50 C15.03,100.25 19.20,100.27 21.40,101.10 C23.60,101.93 24.58,104.13 25.80,105.50 C27.02,106.87 27.25,108.67 28.70,109.30 C30.15,109.93 32.55,108.97 34.50,109.30 C36.45,109.63 39.18,110.23 40.40,111.30 C41.62,112.37 42.30,114.38 41.80,115.70 C41.30,117.02 39.58,118.57 37.40,119.20 C35.22,119.83 31.13,119.83 28.70,119.50 C26.27,119.17 24.50,118.57 22.80,117.20 C21.10,115.83 20.20,112.77 18.50,111.30 C16.80,109.83 14.32,109.37 12.60,108.40 C10.88,107.43 9.17,106.47 8.20,105.50 C7.23,104.53 6.07,103.43 6.80,102.60 Z" fill="#ccd2e5" filter="url(#grain)"/>
<path d="M25.50,108.50 C27.67,107.97 32.02,108.83 34.50,109.30 C36.98,109.77 39.18,110.23 40.40,111.30 C41.62,112.37 42.30,114.38 41.80,115.70 C41.30,117.02 39.58,118.57 37.40,119.20 C35.22,119.83 31.13,119.83 28.70,119.50 C26.27,119.17 24.00,118.37 22.80,117.20 C21.60,116.03 21.05,113.95 21.50,112.50 C21.95,111.05 23.33,109.03 25.50,108.50 Z" fill="#d0d6ea" filter="url(#grain)"/>
<path d="M50,9.2 Q68.1,13.5 78.3,28.1" fill="none" stroke="#8197cd" stroke-width="0.8"/>
<ellipse cx="6.2" cy="34.9" rx="2.2" ry="1.7" fill="#5d75c2"/>
<path d="M7.5,34.9 Q17,34 24.3,38.4" fill="none" stroke="#8197cd" stroke-width="0.7"/>
<ellipse cx="37.7" cy="30.5" rx="0.8" ry="1.7" fill="#8197cd"/>
<circle cx="113.9" cy="34.6" r="1.9" fill="#5d75c2"/>
<path d="M110.4,55 Q115,72 123.6,82.2" fill="none" stroke="#8197cd" stroke-width="1"/>
<circle cx="123.6" cy="82.2" r="1.5" fill="#5d75c2"/>
<circle cx="111.9" cy="147.9" r="1.7" fill="#5d75c2"/>
<path d="M119.2,133.2 Q115.5,141 111.9,147.6" fill="none" stroke="#8197cd" stroke-width="0.9"/>
<path d="M38.9,91.8 Q46,91 53.5,89.5" fill="none" stroke="#5d75c2" stroke-width="1.4"/>
<circle cx="50.5" cy="90" r="1.3" fill="#5d75c2"/>
<circle cx="68.1" cy="92.4" r="1.3" fill="#8197cd" opacity="0.8"/>
<circle cx="76.9" cy="112.8" r="1" fill="#5d75c2"/>
<circle cx="92.9" cy="121.6" r="1.2" fill="#5d75c2"/>
<circle cx="97.3" cy="96.8" r="1" fill="#8197cd"/>
<circle cx="42" cy="113.5" r="1" fill="#5d75c2"/>
<circle cx="102.5" cy="55" r="0.9" fill="#8197cd"/>
<circle cx="108.1" cy="61.7" r="0.9" fill="#8197cd"/>
<circle cx="101.7" cy="69.6" r="0.9" fill="#8197cd"/>
<circle cx="106" cy="67" r="0.9" fill="#8197cd"/>
</g>
<rect x="319.5" y="26.8" width="148.1" height="159.3" fill="none" stroke="#3b3030" stroke-width="1.1"/>
<rect x="469.80" y="26.8" width="4.7" height="159.3" fill="url(#cbgrad)" stroke="#3b3030" stroke-width="1"/>
<line x1="474.50" y1="186.10" x2="477.80" y2="186.10" stroke="#3b3030" stroke-width="1"/>
<text x="480.8" y="188.8" font-size="7.6">0</text>
<line x1="474.50" y1="166.38" x2="477.80" y2="166.38" stroke="#3b3030" stroke-width="1"/>
<text x="480.8" y="169.08" font-size="7.6">1</text>
<line x1="474.50" y1="146.67" x2="477.80" y2="146.67" stroke="#3b3030" stroke-width="1"/>
<text x="480.8" y="149.37" font-size="7.6">2</text>
<line x1="474.50" y1="126.95" x2="477.80" y2="126.95" stroke="#3b3030" stroke-width="1"/>
<text x="480.8" y="129.65" font-size="7.6">3</text>
<line x1="474.50" y1="107.24" x2="477.80" y2="107.24" stroke="#3b3030" stroke-width="1"/>
<text x="480.8" y="109.94" font-size="7.6">4</text>
<line x1="474.50" y1="87.52" x2="477.80" y2="87.52" stroke="#3b3030" stroke-width="1"/>
<text x="480.8" y="90.22" font-size="7.6">5</text>
<line x1="474.50" y1="67.81" x2="477.80" y2="67.81" stroke="#3b3030" stroke-width="1"/>
<text x="480.8" y="70.51" font-size="7.6">6</text>
<line x1="474.50" y1="48.09" x2="477.80" y2="48.09" stroke="#3b3030" stroke-width="1"/>
<text x="480.8" y="50.79" font-size="7.6">7</text>
<line x1="474.50" y1="28.38" x2="477.80" y2="28.38" stroke="#3b3030" stroke-width="1"/>
<text x="480.8" y="31.08" font-size="7.6">8</text>
<text x="390.3" y="195.6" font-size="7.3" text-anchor="middle">UMAP1</text>
<text x="314.6" y="109.15" font-size="7.3" text-anchor="middle" transform="rotate(-90 314.6 109.15)">UMAP2</text>
<text x="393.9" y="10.7" font-size="8.3" text-anchor="middle" font-style="italic">RBCS2B</text>
<text x="393.9" y="20.9" font-size="8.3" text-anchor="middle" font-style="italic">(AT5G38420)</text>
<text x="280.3" y="7" font-size="9" font-weight="bold">d</text>
<g transform="translate(319.5,240.6) translate(0.6,1)">
<path d="M19.90,66.10 C19.90,63.42 21.10,60.75 22.80,58.80 C24.50,56.85 27.42,55.62 30.10,54.40 C32.78,53.18 36.22,52.57 38.90,51.50 C41.58,50.43 44.15,49.07 46.20,48.00 C48.25,46.93 49.88,44.75 51.20,45.10 C52.52,45.45 53.47,48.07 54.10,50.10 C54.73,52.13 54.72,54.88 55.00,57.30 C55.28,59.72 55.18,62.55 55.80,64.60 C56.42,66.65 56.65,68.77 58.70,69.60 C60.75,70.43 65.07,69.22 68.10,69.60 C71.13,69.98 74.72,70.53 76.90,71.90 C79.08,73.27 80.72,75.60 81.20,77.80 C81.68,80.00 81.02,83.65 79.80,85.10 C78.58,86.55 76.33,86.75 73.90,86.50 C71.47,86.25 68.12,84.57 65.20,83.60 C62.28,82.63 59.32,81.18 56.40,80.70 C53.48,80.22 50.62,80.95 47.70,80.70 C44.78,80.45 41.83,79.68 38.90,79.20 C35.97,78.72 32.78,78.52 30.10,77.80 C27.42,77.08 24.50,76.85 22.80,74.90 C21.10,72.95 19.90,68.78 19.90,66.10 Z" fill="#dbd7d6" filter="url(#grain)"/>
<path d="M54.50,56.50 C55.23,54.32 58.53,53.83 60.80,53.00 C63.07,52.17 65.42,51.75 68.10,51.50 C70.78,51.25 74.47,50.92 76.90,51.50 C79.33,52.08 81.15,53.05 82.70,55.00 C84.25,56.95 84.83,60.77 86.20,63.20 C87.57,65.63 89.30,67.57 90.90,69.60 C92.50,71.63 94.25,73.45 95.80,75.40 C97.35,77.35 99.95,79.35 100.20,81.30 C100.45,83.25 99.00,85.63 97.30,87.10 C95.60,88.57 92.68,89.42 90.00,90.10 C87.32,90.78 83.38,91.30 81.20,91.20 C79.02,91.10 77.13,91.25 76.90,89.50 C76.67,87.75 80.30,83.38 79.80,80.70 C79.30,78.02 76.82,75.10 73.90,73.40 C70.98,71.70 65.22,71.72 62.30,70.50 C59.38,69.28 57.70,68.43 56.40,66.10 C55.10,63.77 53.77,58.68 54.50,56.50 Z" fill="#dddad9" filter="url(#grain)"/>
<path d="M88.00,66.00 C88.83,64.75 92.83,65.83 95.00,66.50 C97.17,67.17 99.40,68.42 101.00,70.00 C102.60,71.58 104.60,74.25 104.60,76.00 C104.60,77.75 102.60,79.83 101.00,80.50 C99.40,81.17 96.83,81.08 95.00,80.00 C93.17,78.92 91.17,76.33 90.00,74.00 C88.83,71.67 87.17,67.25 88.00,66.00 Z" fill="#e3e0df" filter="url(#grain)"/>
<path d="M100.20,77.80 C100.20,76.58 103.63,75.10 104.60,73.40 C105.57,71.70 105.27,69.78 106.00,67.60 C106.73,65.42 108.27,62.50 109.00,60.30 C109.73,58.10 108.95,56.35 110.40,54.40 C111.85,52.45 115.50,50.78 117.70,48.60 C119.90,46.42 121.88,43.50 123.60,41.30 C125.32,39.10 126.55,37.10 128.00,35.40 C129.45,33.70 131.33,30.85 132.30,31.10 C133.27,31.35 133.80,34.72 133.80,36.90 C133.80,39.08 132.15,41.77 132.30,44.20 C132.45,46.63 133.72,49.55 134.70,51.50 C135.68,53.45 136.90,54.20 138.20,55.90 C139.50,57.60 142.27,60.25 142.50,61.70 C142.73,63.15 140.32,63.13 139.60,64.60 C138.88,66.07 138.20,68.30 138.20,70.50 C138.20,72.70 140.33,76.35 139.60,77.80 C138.87,79.25 135.98,79.20 133.80,79.20 C131.62,79.20 128.45,77.30 126.50,77.80 C124.55,78.30 123.57,82.20 122.10,82.20 C120.63,82.20 119.17,79.02 117.70,77.80 C116.23,76.58 114.75,74.67 113.30,74.90 C111.85,75.13 110.45,78.23 109.00,79.20 C107.55,80.17 106.07,80.93 104.60,80.70 C103.13,80.47 100.20,79.02 100.20,77.80 Z" fill="#dcd8d7" filter="url(#grain)"/>
<path d="M6.80,102.60 C7.53,101.77 10.17,100.75 12.60,100.50 C15.03,100.25 19.20,100.27 21.40,101.10 C23.60,101.93 24.58,104.13 25.80,105.50 C27.02,106.87 27.25,108.67 28.70,109.30 C30.15,109.93 32.55,108.97 34.50,109.30 C36.45,109.63 39.18,110.23 40.40,111.30 C41.62,112.37 42.30,114.38 41.80,115.70 C41.30,117.02 39.58,118.57 37.40,119.20 C35.22,119.83 31.13,119.83 28.70,119.50 C26.27,119.17 24.50,118.57 22.80,117.20 C21.10,115.83 20.20,112.77 18.50,111.30 C16.80,109.83 14.32,109.37 12.60,108.40 C10.88,107.43 9.17,106.47 8.20,105.50 C7.23,104.53 6.07,103.43 6.80,102.60 Z" fill="#dedad9" filter="url(#grain)"/>
<path d="M52.30,114.90 C52.55,113.48 52.95,111.63 53.80,109.80 C54.65,107.97 56.18,105.60 57.40,103.90 C58.62,102.20 59.88,100.82 61.10,99.60 C62.32,98.38 63.48,97.33 64.70,96.60 C65.92,95.87 67.18,95.32 68.40,95.20 C69.62,95.08 70.92,95.67 72.00,95.90 C73.08,96.13 74.42,95.38 74.90,96.60 C75.38,97.82 75.02,100.63 74.90,103.20 C74.78,105.77 74.32,109.08 74.20,112.00 C74.08,114.92 74.32,117.78 74.20,120.70 C74.08,123.62 74.35,128.15 73.50,129.50 C72.65,130.85 70.68,128.68 69.10,128.80 C67.52,128.92 65.47,130.57 64.00,130.20 C62.53,129.83 61.63,127.93 60.30,126.60 C58.97,125.27 57.33,123.58 56.00,122.20 C54.67,120.82 52.92,119.52 52.30,118.30 C51.68,117.08 52.05,116.32 52.30,114.90 Z" fill="#d9d5d4" filter="url(#grain)"/>
<path d="M70.00,86.50 C72.00,85.58 79.33,88.25 84.00,88.50 C88.67,88.75 95.17,87.17 98.00,88.00 C100.83,88.83 101.67,92.17 101.00,93.50 C100.33,94.83 96.50,95.33 94.00,96.00 C91.50,96.67 88.67,97.33 86.00,97.50 C83.33,97.67 80.33,97.58 78.00,97.00 C75.67,96.42 73.33,95.75 72.00,94.00 C70.67,92.25 68.00,87.42 70.00,86.50 Z" fill="#dfdbda" filter="url(#grain)"/>
<path d="M75.70,94.50 C75.33,96.20 76.25,101.05 77.10,104.70 C77.95,108.35 79.70,112.27 80.80,116.40 C81.90,120.53 82.85,127.32 83.70,129.50 C84.55,131.68 85.42,131.93 85.90,129.50 C86.38,127.07 86.97,119.28 86.60,114.90 C86.23,110.52 84.92,106.60 83.70,103.20 C82.48,99.80 80.63,95.95 79.30,94.50 C77.97,93.05 76.07,92.80 75.70,94.50 Z" fill="#dfdbda" filter="url(#grain)"/>
<path d="M83.70,97.40 C83.93,100.08 87.80,110.77 89.50,114.90 C91.20,119.03 93.53,121.95 93.90,122.20 C94.27,122.45 92.30,118.83 91.70,116.40 C91.10,113.97 90.90,110.53 90.30,107.60 C89.70,104.67 89.20,100.50 88.10,98.80 C87.00,97.10 83.47,94.72 83.70,97.40 Z" fill="#e2dedd" filter="url(#grain)"/>
<path d="M92.50,94.50 C92.98,96.45 96.60,101.30 98.30,104.70 C100.00,108.10 101.60,112.35 102.70,114.90 C103.80,117.45 104.67,120.48 104.90,120.00 C105.13,119.52 104.83,115.03 104.10,112.00 C103.37,108.97 101.95,104.97 100.50,101.80 C99.05,98.63 96.73,94.22 95.40,93.00 C94.07,91.78 92.02,92.55 92.50,94.50 Z" fill="#dfdbda" filter="url(#grain)"/>
<path d="M104.10,94.50 C104.58,93.90 107.03,94.72 108.50,95.20 C109.97,95.68 111.68,97.17 112.90,97.40 C114.12,97.63 115.55,96.12 115.80,96.60 C116.05,97.08 114.15,99.08 114.40,100.30 C114.65,101.52 116.08,101.83 117.30,103.90 C118.52,105.97 121.47,111.35 121.70,112.70 C121.93,114.05 120.17,112.97 118.70,112.00 C117.23,111.03 114.60,108.48 112.90,106.90 C111.20,105.32 109.72,103.85 108.50,102.50 C107.28,101.15 106.33,100.13 105.60,98.80 C104.87,97.47 103.62,95.10 104.10,94.50 Z" fill="#e1dddc" filter="url(#grain)"/>
<path d="M50,9.2 Q68.1,13.5 78.3,28.1" fill="none" stroke="#d0d0d0" stroke-width="0.8"/>
<path d="M94.4,27.6 Q97.5,34 96.7,41.3" fill="none" stroke="#d2d2d2" stroke-width="1"/>
<path d="M6.2,34.9 Q17,34 24.3,38.4" fill="none" stroke="#d6d6d6" stroke-width="0.8"/>
<ellipse cx="6.2" cy="34.9" rx="2.2" ry="1.6" fill="#d0d0d0"/>
<ellipse cx="37.7" cy="30.5" rx="0.8" ry="1.7" fill="#d0d0d0"/>
<path d="M119.2,133.2 Q115.5,141 111.9,147.6" fill="none" stroke="#d4d4d4" stroke-width="1"/>
<circle cx="111.9" cy="147.9" r="1.6" fill="#d0d0d0"/>
<circle cx="113.9" cy="34.6" r="1.9" fill="#d0d0d0"/>
<path d="M38.9,91.8 Q46,91 53.5,89.5" fill="none" stroke="#d4d4d4" stroke-width="1.2"/>
<path d="M25.8,105.5 L28.7,97.6" fill="none" stroke="#d8d8d8" stroke-width="0.7"/>
<ellipse cx="63.5" cy="125" rx="2.2" ry="5" fill="#b4bddc" opacity="0.9" filter="url(#soft)"/>
<ellipse cx="60.5" cy="64" rx="4.5" ry="4.8" fill="#f8f8f8" opacity="0.85" filter="url(#soft)"/>
</g>
<rect x="319.5" y="240.6" width="148.1" height="158.55" fill="none" stroke="#3b3030" stroke-width="1.1"/>
<rect x="469.80" y="240.6" width="4.7" height="158.55" fill="url(#cbgrad)" stroke="#3b3030" stroke-width="1"/>
<line x1="474.50" y1="399.15" x2="477.80" y2="399.15" stroke="#3b3030" stroke-width="1"/>
<text x="480.8" y="401.85" font-size="7.6">0</text>
<line x1="474.50" y1="371.38" x2="477.80" y2="371.38" stroke="#3b3030" stroke-width="1"/>
<text x="480.8" y="374.08" font-size="7.6">1</text>
<line x1="474.50" y1="343.62" x2="477.80" y2="343.62" stroke="#3b3030" stroke-width="1"/>
<text x="480.8" y="346.32" font-size="7.6">2</text>
<line x1="474.50" y1="315.85" x2="477.80" y2="315.85" stroke="#3b3030" stroke-width="1"/>
<text x="480.8" y="318.55" font-size="7.6">3</text>
<line x1="474.50" y1="288.08" x2="477.80" y2="288.08" stroke="#3b3030" stroke-width="1"/>
<text x="480.8" y="290.78" font-size="7.6">4</text>
<line x1="474.50" y1="260.31" x2="477.80" y2="260.31" stroke="#3b3030" stroke-width="1"/>
<text x="480.8" y="263.01" font-size="7.6">5</text>
<text x="390.3" y="409" font-size="7.3" text-anchor="middle">UMAP1</text>
<text x="314.8" y="322.57" font-size="7.3" text-anchor="middle" transform="rotate(-90 314.8 322.57)">UMAP2</text>
<text x="396.8" y="236.4" font-size="8.3" text-anchor="middle" font-style="italic">AT1G66100</text>
<text x="280.3" y="219.7" font-size="9" font-weight="bold">e</text>
<g transform="translate(319.5,441.65) translate(3,1.2) scale(0.99)">
<path d="M19.90,66.10 C19.90,63.42 21.10,60.75 22.80,58.80 C24.50,56.85 27.42,55.62 30.10,54.40 C32.78,53.18 36.22,52.57 38.90,51.50 C41.58,50.43 44.15,49.07 46.20,48.00 C48.25,46.93 49.88,44.75 51.20,45.10 C52.52,45.45 53.47,48.07 54.10,50.10 C54.73,52.13 54.72,54.88 55.00,57.30 C55.28,59.72 55.18,62.55 55.80,64.60 C56.42,66.65 56.65,68.77 58.70,69.60 C60.75,70.43 65.07,69.22 68.10,69.60 C71.13,69.98 74.72,70.53 76.90,71.90 C79.08,73.27 80.72,75.60 81.20,77.80 C81.68,80.00 81.02,83.65 79.80,85.10 C78.58,86.55 76.33,86.75 73.90,86.50 C71.47,86.25 68.12,84.57 65.20,83.60 C62.28,82.63 59.32,81.18 56.40,80.70 C53.48,80.22 50.62,80.95 47.70,80.70 C44.78,80.45 41.83,79.68 38.90,79.20 C35.97,78.72 32.78,78.52 30.10,77.80 C27.42,77.08 24.50,76.85 22.80,74.90 C21.10,72.95 19.90,68.78 19.90,66.10 Z" fill="#dbd7d6" filter="url(#grain)"/>
<path d="M54.50,56.50 C55.23,54.32 58.53,53.83 60.80,53.00 C63.07,52.17 65.42,51.75 68.10,51.50 C70.78,51.25 74.47,50.92 76.90,51.50 C79.33,52.08 81.15,53.05 82.70,55.00 C84.25,56.95 84.83,60.77 86.20,63.20 C87.57,65.63 89.30,67.57 90.90,69.60 C92.50,71.63 94.25,73.45 95.80,75.40 C97.35,77.35 99.95,79.35 100.20,81.30 C100.45,83.25 99.00,85.63 97.30,87.10 C95.60,88.57 92.68,89.42 90.00,90.10 C87.32,90.78 83.38,91.30 81.20,91.20 C79.02,91.10 77.13,91.25 76.90,89.50 C76.67,87.75 80.30,83.38 79.80,80.70 C79.30,78.02 76.82,75.10 73.90,73.40 C70.98,71.70 65.22,71.72 62.30,70.50 C59.38,69.28 57.70,68.43 56.40,66.10 C55.10,63.77 53.77,58.68 54.50,56.50 Z" fill="#dddad9" filter="url(#grain)"/>
<path d="M88.00,66.00 C88.83,64.75 92.83,65.83 95.00,66.50 C97.17,67.17 99.40,68.42 101.00,70.00 C102.60,71.58 104.60,74.25 104.60,76.00 C104.60,77.75 102.60,79.83 101.00,80.50 C99.40,81.17 96.83,81.08 95.00,80.00 C93.17,78.92 91.17,76.33 90.00,74.00 C88.83,71.67 87.17,67.25 88.00,66.00 Z" fill="#e3e0df" filter="url(#grain)"/>
<path d="M100.20,77.80 C100.20,76.58 103.63,75.10 104.60,73.40 C105.57,71.70 105.27,69.78 106.00,67.60 C106.73,65.42 108.27,62.50 109.00,60.30 C109.73,58.10 108.95,56.35 110.40,54.40 C111.85,52.45 115.50,50.78 117.70,48.60 C119.90,46.42 121.88,43.50 123.60,41.30 C125.32,39.10 126.55,37.10 128.00,35.40 C129.45,33.70 131.33,30.85 132.30,31.10 C133.27,31.35 133.80,34.72 133.80,36.90 C133.80,39.08 132.15,41.77 132.30,44.20 C132.45,46.63 133.72,49.55 134.70,51.50 C135.68,53.45 136.90,54.20 138.20,55.90 C139.50,57.60 142.27,60.25 142.50,61.70 C142.73,63.15 140.32,63.13 139.60,64.60 C138.88,66.07 138.20,68.30 138.20,70.50 C138.20,72.70 140.33,76.35 139.60,77.80 C138.87,79.25 135.98,79.20 133.80,79.20 C131.62,79.20 128.45,77.30 126.50,77.80 C124.55,78.30 123.57,82.20 122.10,82.20 C120.63,82.20 119.17,79.02 117.70,77.80 C116.23,76.58 114.75,74.67 113.30,74.90 C111.85,75.13 110.45,78.23 109.00,79.20 C107.55,80.17 106.07,80.93 104.60,80.70 C103.13,80.47 100.20,79.02 100.20,77.80 Z" fill="#dcd8d7" filter="url(#grain)"/>
<path d="M6.80,102.60 C7.53,101.77 10.17,100.75 12.60,100.50 C15.03,100.25 19.20,100.27 21.40,101.10 C23.60,101.93 24.58,104.13 25.80,105.50 C27.02,106.87 27.25,108.67 28.70,109.30 C30.15,109.93 32.55,108.97 34.50,109.30 C36.45,109.63 39.18,110.23 40.40,111.30 C41.62,112.37 42.30,114.38 41.80,115.70 C41.30,117.02 39.58,118.57 37.40,119.20 C35.22,119.83 31.13,119.83 28.70,119.50 C26.27,119.17 24.50,118.57 22.80,117.20 C21.10,115.83 20.20,112.77 18.50,111.30 C16.80,109.83 14.32,109.37 12.60,108.40 C10.88,107.43 9.17,106.47 8.20,105.50 C7.23,104.53 6.07,103.43 6.80,102.60 Z" fill="#dedad9" filter="url(#grain)"/>
<path d="M52.30,114.90 C52.55,113.48 52.95,111.63 53.80,109.80 C54.65,107.97 56.18,105.60 57.40,103.90 C58.62,102.20 59.88,100.82 61.10,99.60 C62.32,98.38 63.48,97.33 64.70,96.60 C65.92,95.87 67.18,95.32 68.40,95.20 C69.62,95.08 70.92,95.67 72.00,95.90 C73.08,96.13 74.42,95.38 74.90,96.60 C75.38,97.82 75.02,100.63 74.90,103.20 C74.78,105.77 74.32,109.08 74.20,112.00 C74.08,114.92 74.32,117.78 74.20,120.70 C74.08,123.62 74.35,128.15 73.50,129.50 C72.65,130.85 70.68,128.68 69.10,128.80 C67.52,128.92 65.47,130.57 64.00,130.20 C62.53,129.83 61.63,127.93 60.30,126.60 C58.97,125.27 57.33,123.58 56.00,122.20 C54.67,120.82 52.92,119.52 52.30,118.30 C51.68,117.08 52.05,116.32 52.30,114.90 Z" fill="#d9d5d4" filter="url(#grain)"/>
<path d="M70.00,86.50 C72.00,85.58 79.33,88.25 84.00,88.50 C88.67,88.75 95.17,87.17 98.00,88.00 C100.83,88.83 101.67,92.17 101.00,93.50 C100.33,94.83 96.50,95.33 94.00,96.00 C91.50,96.67 88.67,97.33 86.00,97.50 C83.33,97.67 80.33,97.58 78.00,97.00 C75.67,96.42 73.33,95.75 72.00,94.00 C70.67,92.25 68.00,87.42 70.00,86.50 Z" fill="#dfdbda" filter="url(#grain)"/>
<path d="M75.70,94.50 C75.33,96.20 76.25,101.05 77.10,104.70 C77.95,108.35 79.70,112.27 80.80,116.40 C81.90,120.53 82.85,127.32 83.70,129.50 C84.55,131.68 85.42,131.93 85.90,129.50 C86.38,127.07 86.97,119.28 86.60,114.90 C86.23,110.52 84.92,106.60 83.70,103.20 C82.48,99.80 80.63,95.95 79.30,94.50 C77.97,93.05 76.07,92.80 75.70,94.50 Z" fill="#dfdbda" filter="url(#grain)"/>
<path d="M83.70,97.40 C83.93,100.08 87.80,110.77 89.50,114.90 C91.20,119.03 93.53,121.95 93.90,122.20 C94.27,122.45 92.30,118.83 91.70,116.40 C91.10,113.97 90.90,110.53 90.30,107.60 C89.70,104.67 89.20,100.50 88.10,98.80 C87.00,97.10 83.47,94.72 83.70,97.40 Z" fill="#e2dedd" filter="url(#grain)"/>
<path d="M92.50,94.50 C92.98,96.45 96.60,101.30 98.30,104.70 C100.00,108.10 101.60,112.35 102.70,114.90 C103.80,117.45 104.67,120.48 104.90,120.00 C105.13,119.52 104.83,115.03 104.10,112.00 C103.37,108.97 101.95,104.97 100.50,101.80 C99.05,98.63 96.73,94.22 95.40,93.00 C94.07,91.78 92.02,92.55 92.50,94.50 Z" fill="#dfdbda" filter="url(#grain)"/>
<path d="M104.10,94.50 C104.58,93.90 107.03,94.72 108.50,95.20 C109.97,95.68 111.68,97.17 112.90,97.40 C114.12,97.63 115.55,96.12 115.80,96.60 C116.05,97.08 114.15,99.08 114.40,100.30 C114.65,101.52 116.08,101.83 117.30,103.90 C118.52,105.97 121.47,111.35 121.70,112.70 C121.93,114.05 120.17,112.97 118.70,112.00 C117.23,111.03 114.60,108.48 112.90,106.90 C111.20,105.32 109.72,103.85 108.50,102.50 C107.28,101.15 106.33,100.13 105.60,98.80 C104.87,97.47 103.62,95.10 104.10,94.50 Z" fill="#e1dddc" filter="url(#grain)"/>
<path d="M50,9.2 Q68.1,13.5 78.3,28.1" fill="none" stroke="#d0d0d0" stroke-width="0.8"/>
<path d="M94.4,27.6 Q97.5,34 96.7,41.3" fill="none" stroke="#d2d2d2" stroke-width="1"/>
<path d="M6.2,34.9 Q17,34 24.3,38.4" fill="none" stroke="#d6d6d6" stroke-width="0.8"/>
<ellipse cx="6.2" cy="34.9" rx="2.2" ry="1.6" fill="#d0d0d0"/>
<ellipse cx="37.7" cy="30.5" rx="0.8" ry="1.7" fill="#d0d0d0"/>
<path d="M119.2,133.2 Q115.5,141 111.9,147.6" fill="none" stroke="#d4d4d4" stroke-width="1"/>
<circle cx="111.9" cy="147.9" r="1.6" fill="#d0d0d0"/>
<circle cx="113.9" cy="34.6" r="1.9" fill="#d0d0d0"/>
<path d="M38.9,91.8 Q46,91 53.5,89.5" fill="none" stroke="#d4d4d4" stroke-width="1.2"/>
<path d="M25.8,105.5 L28.7,97.6" fill="none" stroke="#d8d8d8" stroke-width="0.7"/>
<path d="M54.50,56.50 C55.23,54.32 58.53,53.83 60.80,53.00 C63.07,52.17 65.42,51.75 68.10,51.50 C70.78,51.25 74.47,50.92 76.90,51.50 C79.33,52.08 81.15,53.05 82.70,55.00 C84.25,56.95 84.83,60.77 86.20,63.20 C87.57,65.63 89.30,67.57 90.90,69.60 C92.50,71.63 94.25,73.45 95.80,75.40 C97.35,77.35 99.95,79.35 100.20,81.30 C100.45,83.25 99.00,85.63 97.30,87.10 C95.60,88.57 92.68,89.42 90.00,90.10 C87.32,90.78 83.38,91.30 81.20,91.20 C79.02,91.10 77.13,91.25 76.90,89.50 C76.67,87.75 80.30,83.38 79.80,80.70 C79.30,78.02 76.82,75.10 73.90,73.40 C70.98,71.70 65.22,71.72 62.30,70.50 C59.38,69.28 57.70,68.43 56.40,66.10 C55.10,63.77 53.77,58.68 54.50,56.50 Z" fill="#d8dcea" filter="url(#grain)"/>
<path d="M19.90,66.10 C19.90,63.42 21.10,60.75 22.80,58.80 C24.50,56.85 27.42,55.62 30.10,54.40 C32.78,53.18 36.22,52.57 38.90,51.50 C41.58,50.43 44.15,49.07 46.20,48.00 C48.25,46.93 49.88,44.75 51.20,45.10 C52.52,45.45 53.47,48.07 54.10,50.10 C54.73,52.13 54.72,54.88 55.00,57.30 C55.28,59.72 55.18,62.55 55.80,64.60 C56.42,66.65 56.65,68.77 58.70,69.60 C60.75,70.43 65.07,69.22 68.10,69.60 C71.13,69.98 74.72,70.53 76.90,71.90 C79.08,73.27 80.72,75.60 81.20,77.80 C81.68,80.00 81.02,83.65 79.80,85.10 C78.58,86.55 76.33,86.75 73.90,86.50 C71.47,86.25 68.12,84.57 65.20,83.60 C62.28,82.63 59.32,81.18 56.40,80.70 C53.48,80.22 50.62,80.95 47.70,80.70 C44.78,80.45 41.83,79.68 38.90,79.20 C35.97,78.72 32.78,78.52 30.10,77.80 C27.42,77.08 24.50,76.85 22.80,74.90 C21.10,72.95 19.90,68.78 19.90,66.10 Z" fill="#a9b8de" filter="url(#grain2)"/>
<ellipse cx="59.9" cy="62.5" rx="4.6" ry="5" fill="#f6f6f6" opacity="0.9" filter="url(#soft)"/>
<ellipse cx="50" cy="52" rx="5" ry="6" fill="#d8dcea" opacity="0.8" filter="url(#soft)"/>
<ellipse cx="66" cy="76" rx="10" ry="4.5" transform="rotate(12 66 76)" fill="#a9b8de" opacity="0.8" filter="url(#soft)"/>
<circle cx="76" cy="85" r="2.8" fill="#7e94d2" opacity="0.9" filter="url(#soft)"/>
<circle cx="77.5" cy="66.5" r="1.6" fill="#7e94d2" opacity="0.6" filter="url(#soft)"/>
<path d="M6.80,102.60 C7.53,101.77 10.17,100.75 12.60,100.50 C15.03,100.25 19.20,100.27 21.40,101.10 C23.60,101.93 24.58,104.13 25.80,105.50 C27.02,106.87 27.25,108.67 28.70,109.30 C30.15,109.93 32.55,108.97 34.50,109.30 C36.45,109.63 39.18,110.23 40.40,111.30 C41.62,112.37 42.30,114.38 41.80,115.70 C41.30,117.02 39.58,118.57 37.40,119.20 C35.22,119.83 31.13,119.83 28.70,119.50 C26.27,119.17 24.50,118.57 22.80,117.20 C21.10,115.83 20.20,112.77 18.50,111.30 C16.80,109.83 14.32,109.37 12.60,108.40 C10.88,107.43 9.17,106.47 8.20,105.50 C7.23,104.53 6.07,103.43 6.80,102.60 Z" fill="#d0d6e8" filter="url(#grain)"/>
<path d="M25.50,108.50 C27.67,107.97 32.02,108.83 34.50,109.30 C36.98,109.77 39.18,110.23 40.40,111.30 C41.62,112.37 42.30,114.38 41.80,115.70 C41.30,117.02 39.58,118.57 37.40,119.20 C35.22,119.83 31.13,119.83 28.70,119.50 C26.27,119.17 24.00,118.37 22.80,117.20 C21.60,116.03 21.05,113.95 21.50,112.50 C21.95,111.05 23.33,109.03 25.50,108.50 Z" fill="#d8dcea" filter="url(#grain)"/>
<path d="M50,9.2 Q68.1,13.5 78.3,28.1" fill="none" stroke="#a9b8de" stroke-width="0.8"/>
<ellipse cx="6.2" cy="34.9" rx="2.2" ry="1.7" fill="#7e94d2"/>
<path d="M7.5,34.9 Q17,34 24.3,38.4" fill="none" stroke="#a9b8de" stroke-width="0.7"/>
<ellipse cx="37.7" cy="30.5" rx="0.8" ry="1.7" fill="#a9b8de"/>
<circle cx="113.9" cy="34.6" r="1.9" fill="#7e94d2"/>
<path d="M110.4,55 Q115,72 123.6,82.2" fill="none" stroke="#a9b8de" stroke-width="1"/>
<circle cx="123.6" cy="82.2" r="1.5" fill="#7e94d2"/>
<circle cx="111.9" cy="147.9" r="1.7" fill="#7e94d2"/>
<path d="M119.2,133.2 Q115.5,141 111.9,147.6" fill="none" stroke="#a9b8de" stroke-width="0.9"/>
<path d="M38.9,91.8 Q46,91 53.5,89.5" fill="none" stroke="#7e94d2" stroke-width="1.4"/>
<circle cx="50.5" cy="90" r="1.3" fill="#7e94d2"/>
<circle cx="68.1" cy="92.4" r="1.3" fill="#a9b8de" opacity="0.8"/>
<circle cx="76.9" cy="112.8" r="1" fill="#7e94d2"/>
<circle cx="92.9" cy="121.6" r="1.2" fill="#7e94d2"/>
<circle cx="97.3" cy="96.8" r="1" fill="#a9b8de"/>
<circle cx="42" cy="113.5" r="1" fill="#7e94d2"/>
<circle cx="102.5" cy="55" r="0.9" fill="#a9b8de"/>
<circle cx="108.1" cy="61.7" r="0.9" fill="#a9b8de"/>
<circle cx="101.7" cy="69.6" r="0.9" fill="#a9b8de"/>
<circle cx="106" cy="67" r="0.9" fill="#a9b8de"/>
</g>
<rect x="319.5" y="441.65" width="148.1" height="158.75" fill="none" stroke="#3b3030" stroke-width="1.1"/>
<rect x="469.80" y="441.65" width="4.7" height="158.75" fill="url(#cbgrad)" stroke="#3b3030" stroke-width="1"/>
<line x1="474.50" y1="600.40" x2="477.80" y2="600.40" stroke="#3b3030" stroke-width="1"/>
<text x="480.8" y="603.1" font-size="7.6">0</text>
<line x1="474.50" y1="565.78" x2="477.80" y2="565.78" stroke="#3b3030" stroke-width="1"/>
<text x="480.8" y="568.48" font-size="7.6">2</text>
<line x1="474.50" y1="531.15" x2="477.80" y2="531.15" stroke="#3b3030" stroke-width="1"/>
<text x="480.8" y="533.85" font-size="7.6">4</text>
<line x1="474.50" y1="496.53" x2="477.80" y2="496.53" stroke="#3b3030" stroke-width="1"/>
<text x="480.8" y="499.23" font-size="7.6">6</text>
<line x1="474.50" y1="461.90" x2="477.80" y2="461.90" stroke="#3b3030" stroke-width="1"/>
<text x="480.8" y="464.6" font-size="7.6">8</text>
<text x="390.3" y="609.3" font-size="7.3" text-anchor="middle">UMAP1</text>
<text x="314.6" y="523.73" font-size="7.3" text-anchor="middle" transform="rotate(-90 314.6 523.73)">UMAP2</text>
<text x="396" y="428.3" font-size="8.3" text-anchor="middle" font-style="italic">CAB2</text>
<text x="396" y="438.2" font-size="8.3" text-anchor="middle" font-style="italic">(AT1G29920)</text>
<text x="280.3" y="422.5" font-size="9" font-weight="bold">f</text>
<defs>
<linearGradient id="gbg" x1="0" y1="0" x2="0" y2="1"><stop offset="0" stop-color="#c4c1c9"/><stop offset="0.04" stop-color="#c8c5cc"/><stop offset="0.15" stop-color="#d0cfd3"/><stop offset="0.24" stop-color="#dad8d8"/><stop offset="0.49" stop-color="#e1e0de"/><stop offset="0.7" stop-color="#e2e2e0"/><stop offset="0.93" stop-color="#dddddb"/><stop offset="1" stop-color="#d9d9d7"/></linearGradient>
<linearGradient id="gvig" x1="0" y1="0" x2="1" y2="0"><stop offset="0" stop-color="#000" stop-opacity="0.05"/><stop offset="0.15" stop-color="#000" stop-opacity="0"/><stop offset="0.85" stop-color="#000" stop-opacity="0"/><stop offset="1" stop-color="#000" stop-opacity="0.05"/></linearGradient>
<radialGradient id="gcot" cx="0.55" cy="0.35" r="0.7"><stop offset="0" stop-color="#05070f"/><stop offset="0.5" stop-color="#0b1330"/><stop offset="0.8" stop-color="#152a55"/><stop offset="1" stop-color="#26476c"/></radialGradient>
<linearGradient id="ghyp" x1="0" y1="0" x2="0" y2="1"><stop offset="0" stop-color="#3d96b8"/><stop offset="0.3" stop-color="#9cc2cf"/><stop offset="0.5" stop-color="#5aa2c4"/><stop offset="0.8" stop-color="#2a84bc"/><stop offset="1" stop-color="#c4d2d8"/></linearGradient>
<filter id="blur05" x="-20%" y="-20%" width="140%" height="140%"><feGaussianBlur stdDeviation="0.8"/></filter>
<filter id="blur1" x="-30%" y="-30%" width="160%" height="160%"><feGaussianBlur stdDeviation="1"/></filter>
<filter id="blur2" x="-50%" y="-50%" width="200%" height="200%"><feGaussianBlur stdDeviation="2"/></filter>
<filter id="blur3" x="-50%" y="-50%" width="200%" height="200%"><feGaussianBlur stdDeviation="3"/></filter>
<linearGradient id="hbg" x1="0" y1="0" x2="1" y2="1"><stop offset="0" stop-color="#a0c397"/><stop offset="0.2" stop-color="#8fb486"/><stop offset="0.5" stop-color="#8bb182"/><stop offset="1" stop-color="#8db285"/></linearGradient>
<filter id="tealgrain" x="-5%" y="-20%" width="110%" height="140%"><feTurbulence type="fractalNoise" baseFrequency="0.12" numOctaves="2" seed="11" result="n"/><feColorMatrix in="n" type="matrix" values="0 0 0 0 0 0 0 0 0 0 0 0 0 0 0 0 0 0 -2.2 2.1" result="na"/><feComposite in="SourceGraphic" in2="na" operator="in"/><feGaussianBlur stdDeviation="0.5"/></filter>
<clipPath id="hclip"><rect x="522.1" y="242.6" width="162.9" height="153.6"/></clipPath>
<linearGradient id="ibg" x1="0" y1="0" x2="0" y2="1"><stop offset="0" stop-color="#b0b5c4"/><stop offset="0.05" stop-color="#b4b8c6"/><stop offset="0.26" stop-color="#cacbd0"/><stop offset="0.5" stop-color="#dcdcda"/><stop offset="0.85" stop-color="#e0e0dc"/><stop offset="1" stop-color="#d6d6d6"/></linearGradient>
<radialGradient id="icot" cx="0.45" cy="0.45" r="0.62"><stop offset="0" stop-color="#0f4c76"/><stop offset="0.65" stop-color="#0d436c"/><stop offset="1" stop-color="#0a3052"/></radialGradient>
<linearGradient id="ihyp" x1="0" y1="0" x2="0" y2="1"><stop offset="0" stop-color="#15528a"/><stop offset="0.4" stop-color="#1a5ea0"/><stop offset="0.75" stop-color="#1a88a8"/><stop offset="1" stop-color="#b8d0d4"/></linearGradient>
</defs>
<text x="513.2" y="6.5" font-size="9" font-weight="bold">g</text>
<text x="603.2" y="10.6" font-size="8.2" text-anchor="middle" font-style="italic" textLength="69.5" lengthAdjust="spacingAndGlyphs">RBCS2B:LUC-GUS</text>
<rect x="565.2" y="14.3" width="76.3" height="173.2" fill="url(#gbg)"/>
<rect x="565.2" y="14.3" width="76.3" height="173.2" fill="url(#gvig)"/>
<path d="M597.30,50.00 C597.28,51.67 597.27,56.17 597.20,60.00 C597.13,63.83 597.17,68.67 596.90,73.00 C596.63,77.33 595.85,82.83 595.60,86.00 C595.35,89.17 595.25,90.17 595.40,92.00 C595.55,93.83 595.85,94.33 596.50,97.00 C597.15,99.67 598.28,103.25 599.30,108.00 C600.32,112.75 601.50,120.40 602.60,125.50 C603.70,130.60 604.90,134.52 605.90,138.60 C606.90,142.68 607.87,146.68 608.60,150.00 C609.33,153.32 610.02,157.08 610.30,158.50" fill="none" stroke="#dad7cf" stroke-width="2.6" stroke-linecap="round" filter="url(#blur05)"/>
<path d="M597.30,50.00 C597.28,51.67 597.27,56.17 597.20,60.00 C597.13,63.83 597.17,68.67 596.90,73.00 C596.63,77.33 595.85,82.83 595.60,86.00 C595.35,89.17 595.25,90.17 595.40,92.00 C595.55,93.83 595.85,94.33 596.50,97.00 C597.15,99.67 598.28,103.25 599.30,108.00 C600.32,112.75 601.50,120.40 602.60,125.50 C603.70,130.60 604.90,134.52 605.90,138.60 C606.90,142.68 607.87,146.68 608.60,150.00 C609.33,153.32 610.02,157.08 610.30,158.50" fill="none" stroke="#e9e5da" stroke-width="1.5" stroke-linecap="round" filter="url(#blur05)"/>
<circle cx="595.6" cy="89" r="1" fill="#f6f6f6" filter="url(#blur05)"/>
<path d="M596.4,31 C596,38 595.3,46 595.6,51.5 C596.2,53.2 597.6,53.2 598,51.5 C598.6,46 600.2,38 601,31 Z" fill="url(#ghyp)" filter="url(#blur05)"/>
<ellipse cx="597" cy="44.5" rx="2" ry="4.6" fill="#1a6aa8" filter="url(#blur05)"/>
<ellipse cx="598.8" cy="30" rx="4" ry="3.2" fill="#3c92b4" filter="url(#blur1)"/>
<path d="M570.80,21.40 C571.10,19.58 571.80,17.65 572.60,16.60 C573.40,15.55 574.07,15.43 575.60,15.10 C577.13,14.77 579.90,14.58 581.80,14.60 C583.70,14.62 585.62,14.73 587.00,15.20 C588.38,15.67 589.22,16.37 590.10,17.40 C590.98,18.43 591.50,19.72 592.30,21.40 C593.10,23.08 594.62,25.97 594.90,27.50 C595.18,29.03 594.73,29.72 594.00,30.60 C593.27,31.48 592.25,32.15 590.50,32.80 C588.75,33.45 585.68,34.28 583.50,34.50 C581.32,34.72 579.15,34.60 577.40,34.10 C575.65,33.60 574.10,32.60 573.00,31.50 C571.90,30.40 571.17,29.18 570.80,27.50 C570.43,25.82 570.50,23.22 570.80,21.40 Z" fill="url(#gcot)" filter="url(#blur05)"/>
<path d="M602.80,19.60 C603.23,18.07 603.63,17.37 604.50,16.60 C605.37,15.83 606.25,15.27 608.00,15.00 C609.75,14.73 613.17,14.73 615.00,15.00 C616.83,15.27 618.05,15.53 619.00,16.60 C619.95,17.67 620.45,19.73 620.70,21.40 C620.95,23.07 620.93,25.00 620.50,26.60 C620.07,28.20 619.30,29.85 618.10,31.00 C616.90,32.15 615.12,33.13 613.30,33.50 C611.48,33.87 608.88,33.68 607.20,33.20 C605.52,32.72 604.08,31.83 603.20,30.60 C602.32,29.37 601.97,27.63 601.90,25.80 C601.83,23.97 602.37,21.13 602.80,19.60 Z" fill="url(#gcot)" filter="url(#blur05)"/>
<ellipse cx="578" cy="25" rx="5" ry="4" fill="#182c5a" opacity="0.45" filter="url(#blur2)"/>
<path d="M574,31 Q583,35.5 591,32" fill="none" stroke="#2f5676" stroke-width="1.4" opacity="0.7" filter="url(#blur05)"/>
<path d="M605,31.5 Q612,34.5 618,30.5" fill="none" stroke="#2f5676" stroke-width="1.4" opacity="0.7" filter="url(#blur05)"/>
<ellipse cx="593.5" cy="29" rx="2" ry="2.6" fill="#2f80b0" opacity="0.8" filter="url(#blur1)"/>
<ellipse cx="603.5" cy="29" rx="2" ry="2.4" fill="#2f80b0" opacity="0.7" filter="url(#blur1)"/>
<line x1="605.3" y1="186" x2="638.9" y2="186" stroke="#3a3333" stroke-width="1.6"/>
<text x="621.2" y="185" font-size="6.4" text-anchor="middle" textLength="15.8" lengthAdjust="spacingAndGlyphs">1 mm</text>
<text x="512.6" y="219.8" font-size="9" font-weight="bold">h</text>
<text x="600.3" y="238.9" font-size="8.3" text-anchor="middle" font-style="italic" textLength="88.4" lengthAdjust="spacingAndGlyphs">AT1G66100:LUC-GUS</text>
<g clip-path="url(#hclip)">
<rect x="522.1" y="242.6" width="162.9" height="153.6" fill="url(#hbg)"/>
<circle cx="626" cy="290.5" r="8" fill="#7c9e72" opacity="0.6" filter="url(#blur3)"/>
<circle cx="636" cy="297" r="5" fill="#789a6e" opacity="0.6" filter="url(#blur2)"/>
<circle cx="669" cy="250.5" r="3.5" fill="#80a278" opacity="0.6" filter="url(#blur2)"/>
<path d="M518,265.2 L533,267.3 L545.9,269.9 L558.8,274.4 L571.8,279.6 L584.7,287.4 L600,296.8 L617,302.1 L634,309.8 L651,317.4 L668,327.6 L690,339.5 L690,374 L668,366.7 L634,354.8 L600,342.9 L558.8,322.3 L521.9,306.8 L518,306 Z" fill="#66864f" opacity="0.85" filter="url(#blur1)"/>
<path d="M518,300 L560,314 L600,333 L634,345 L668,356 L690,364 L690,376 L668,369 L634,357 L600,345 L558.8,324.5 L518,309 Z" fill="#7c9c6c" opacity="0.6" filter="url(#blur2)"/>
<g filter="url(#blur1)"><ellipse cx="522.0" cy="274.2" rx="6.0" ry="5.0" transform="rotate(16 522.0 274.2)" fill="#4f633a" opacity="0.85"/><ellipse cx="535.5" cy="276.2" rx="6.6" ry="5.3" transform="rotate(16 535.5 276.2)" fill="#4f633a" opacity="0.85"/><ellipse cx="546.6" cy="280.2" rx="5.9" ry="4.4" transform="rotate(16 546.6 280.2)" fill="#566a3e" opacity="0.85"/><ellipse cx="557.8" cy="284.8" rx="7.1" ry="5.0" transform="rotate(16 557.8 284.8)" fill="#4a5d35" opacity="0.85"/><ellipse cx="571.6" cy="290.6" rx="6.4" ry="5.4" transform="rotate(26 571.6 290.6)" fill="#4f633a" opacity="0.85"/><ellipse cx="584.3" cy="296.3" rx="6.4" ry="4.9" transform="rotate(26 584.3 296.3)" fill="#394624" opacity="0.85"/><ellipse cx="596.9" cy="305.8" rx="5.9" ry="4.9" transform="rotate(26 596.9 305.8)" fill="#43522c" opacity="0.85"/><ellipse cx="609.1" cy="310.0" rx="5.9" ry="4.4" transform="rotate(26 609.1 310.0)" fill="#43522c" opacity="0.85"/><ellipse cx="621.6" cy="314.5" rx="6.9" ry="4.8" transform="rotate(26 621.6 314.5)" fill="#4a5a31" opacity="0.85"/><ellipse cx="633.6" cy="318.6" rx="6.1" ry="5.2" transform="rotate(26 633.6 318.6)" fill="#3d4b27" opacity="0.85"/><ellipse cx="646.4" cy="325.1" rx="7.0" ry="5.1" transform="rotate(26 646.4 325.1)" fill="#394624" opacity="0.85"/><ellipse cx="659.2" cy="330.0" rx="6.5" ry="4.5" transform="rotate(26 659.2 330.0)" fill="#394624" opacity="0.85"/><ellipse cx="670.6" cy="337.5" rx="5.9" ry="5.0" transform="rotate(26 670.6 337.5)" fill="#394624" opacity="0.85"/><ellipse cx="682.7" cy="343.0" rx="6.5" ry="5.2" transform="rotate(26 682.7 343.0)" fill="#3d4b27" opacity="0.85"/><ellipse cx="528.0" cy="289.5" rx="6.5" ry="5.0" transform="rotate(16 528.0 289.5)" fill="#4f633a" opacity="0.85"/><ellipse cx="541.2" cy="291.2" rx="6.6" ry="5.0" transform="rotate(16 541.2 291.2)" fill="#566a3e" opacity="0.85"/><ellipse cx="553.0" cy="295.7" rx="6.7" ry="4.3" transform="rotate(16 553.0 295.7)" fill="#566a3e" opacity="0.85"/><ellipse cx="565.1" cy="301.6" rx="6.5" ry="4.5" transform="rotate(16 565.1 301.6)" fill="#566a3e" opacity="0.85"/><ellipse cx="576.5" cy="305.8" rx="6.3" ry="5.3" transform="rotate(26 576.5 305.8)" fill="#4f633a" opacity="0.85"/><ellipse cx="588.0" cy="312.8" rx="6.2" ry="4.5" transform="rotate(26 588.0 312.8)" fill="#4a5a31" opacity="0.85"/><ellipse cx="601.6" cy="319.6" rx="6.4" ry="4.7" transform="rotate(26 601.6 319.6)" fill="#4a5a31" opacity="0.85"/><ellipse cx="615.5" cy="323.7" rx="6.0" ry="4.6" transform="rotate(26 615.5 323.7)" fill="#43522c" opacity="0.85"/><ellipse cx="626.5" cy="330.5" rx="6.1" ry="4.6" transform="rotate(26 626.5 330.5)" fill="#43522c" opacity="0.85"/><ellipse cx="638.8" cy="333.7" rx="6.6" ry="5.3" transform="rotate(26 638.8 333.7)" fill="#3d4b27" opacity="0.85"/><ellipse cx="651.1" cy="340.4" rx="7.1" ry="5.0" transform="rotate(26 651.1 340.4)" fill="#4a5a31" opacity="0.85"/><ellipse cx="663.3" cy="344.6" rx="6.5" ry="4.7" transform="rotate(26 663.3 344.6)" fill="#43522c" opacity="0.85"/><ellipse cx="674.5" cy="349.1" rx="6.0" ry="4.7" transform="rotate(26 674.5 349.1)" fill="#3d4b27" opacity="0.85"/><ellipse cx="685.8" cy="355.1" rx="6.6" ry="5.3" transform="rotate(26 685.8 355.1)" fill="#3d4b27" opacity="0.85"/><ellipse cx="524.0" cy="297.5" rx="6.3" ry="5.0" transform="rotate(16 524.0 297.5)" fill="#55693c" opacity="0.6"/><ellipse cx="537.3" cy="303.3" rx="6.0" ry="4.8" transform="rotate(16 537.3 303.3)" fill="#55693c" opacity="0.6"/><ellipse cx="550.2" cy="307.6" rx="6.0" ry="5.1" transform="rotate(16 550.2 307.6)" fill="#4a5f33" opacity="0.6"/><ellipse cx="562.5" cy="314.8" rx="6.0" ry="4.3" transform="rotate(16 562.5 314.8)" fill="#4a5f33" opacity="0.6"/><ellipse cx="575.1" cy="320.5" rx="7.1" ry="5.1" transform="rotate(26 575.1 320.5)" fill="#55693c" opacity="0.6"/><ellipse cx="589.6" cy="328.7" rx="6.8" ry="4.6" transform="rotate(26 589.6 328.7)" fill="#55693c" opacity="0.6"/><ellipse cx="603.8" cy="333.5" rx="6.1" ry="4.9" transform="rotate(26 603.8 333.5)" fill="#4a5f33" opacity="0.6"/><ellipse cx="616.3" cy="337.3" rx="6.9" ry="5.4" transform="rotate(26 616.3 337.3)" fill="#4e6436" opacity="0.6"/><ellipse cx="630.2" cy="344.6" rx="6.8" ry="4.5" transform="rotate(26 630.2 344.6)" fill="#4a5f33" opacity="0.6"/><ellipse cx="643.2" cy="349.1" rx="7.2" ry="5.2" transform="rotate(26 643.2 349.1)" fill="#55693c" opacity="0.6"/><ellipse cx="655.5" cy="353.7" rx="7.1" ry="4.8" transform="rotate(26 655.5 353.7)" fill="#4a5f33" opacity="0.6"/><ellipse cx="669.9" cy="360.2" rx="6.3" ry="4.5" transform="rotate(26 669.9 360.2)" fill="#4e6436" opacity="0.6"/><ellipse cx="682.8" cy="363.2" rx="6.5" ry="5.4" transform="rotate(26 682.8 363.2)" fill="#4a5f33" opacity="0.6"/></g>
<path d="M518.00,265.20 C520.50,265.55 528.35,266.52 533.00,267.30 C537.65,268.08 541.60,268.72 545.90,269.90 C550.20,271.08 554.48,272.78 558.80,274.40 C563.12,276.02 567.48,277.43 571.80,279.60 C576.12,281.77 580.00,284.53 584.70,287.40 C589.40,290.27 594.62,294.35 600.00,296.80 C605.38,299.25 611.33,299.93 617.00,302.10 C622.67,304.27 628.33,307.25 634.00,309.80 C639.67,312.35 645.33,314.43 651.00,317.40 C656.67,320.37 661.50,323.92 668.00,327.60 C674.50,331.28 686.33,337.52 690.00,339.50" fill="none" stroke="#4f9470" stroke-width="6" opacity="0.65" filter="url(#blur1)" transform="translate(0,2.2)"/>
<path d="M518.00,265.20 C520.50,265.55 528.35,266.52 533.00,267.30 C537.65,268.08 541.60,268.72 545.90,269.90 C550.20,271.08 554.48,272.78 558.80,274.40 C563.12,276.02 567.48,277.43 571.80,279.60 C576.12,281.77 580.00,284.53 584.70,287.40 C589.40,290.27 594.62,294.35 600.00,296.80 C605.38,299.25 611.33,299.93 617.00,302.10 C622.67,304.27 628.33,307.25 634.00,309.80 C639.67,312.35 645.33,314.43 651.00,317.40 C656.67,320.37 661.50,323.92 668.00,327.60 C674.50,331.28 686.33,337.52 690.00,339.50" fill="none" stroke="#25704f" stroke-width="4" filter="url(#tealgrain)" transform="translate(0,1.8)"/>
</g>
<line x1="645.1" y1="392.3" x2="681.9" y2="392.3" stroke="#111" stroke-width="1.5"/>
<text x="665" y="389" font-size="6.4" text-anchor="middle" textLength="22.3" lengthAdjust="spacingAndGlyphs">110 µm</text>
<text x="514.6" y="423.5" font-size="9" font-weight="bold">i</text>
<text x="603.4" y="430.2" font-size="8.3" text-anchor="middle" font-style="italic" textLength="63.6" lengthAdjust="spacingAndGlyphs">CAB2:LUC-GUS</text>
<rect x="557.2" y="435.2" width="92.0" height="172.2" fill="url(#ibg)"/>
<rect x="557.2" y="435.2" width="92.0" height="172.2" fill="url(#gvig)"/>
<path d="M600.40,484.00 C600.77,485.25 601.67,489.48 602.60,491.50 C603.53,493.52 604.87,494.40 606.00,496.10 C607.13,497.80 608.27,499.25 609.40,501.70 C610.53,504.15 611.97,507.38 612.80,510.80 C613.63,514.22 614.10,518.42 614.40,522.20 C614.70,525.98 614.75,529.73 614.60,533.50 C614.45,537.27 613.98,541.02 613.50,544.80 C613.02,548.58 612.38,552.42 611.70,556.20 C611.02,559.98 610.15,563.73 609.40,567.50 C608.65,571.27 607.95,575.02 607.20,578.80 C606.45,582.58 605.47,586.78 604.90,590.20 C604.33,593.62 603.98,597.78 603.80,599.30" fill="none" stroke="#cfd0ca" stroke-width="3.2" stroke-linecap="round" opacity="0.55" filter="url(#blur05)"/>
<path d="M600.40,484.00 C600.77,485.25 601.67,489.48 602.60,491.50 C603.53,493.52 604.87,494.40 606.00,496.10 C607.13,497.80 608.27,499.25 609.40,501.70 C610.53,504.15 611.97,507.38 612.80,510.80 C613.63,514.22 614.10,518.42 614.40,522.20 C614.70,525.98 614.75,529.73 614.60,533.50 C614.45,537.27 613.98,541.02 613.50,544.80 C613.02,548.58 612.38,552.42 611.70,556.20 C611.02,559.98 610.15,563.73 609.40,567.50 C608.65,571.27 607.95,575.02 607.20,578.80 C606.45,582.58 605.47,586.78 604.90,590.20 C604.33,593.62 603.98,597.78 603.80,599.30" fill="none" stroke="#e6e6e1" stroke-width="1.8" stroke-linecap="round" filter="url(#blur05)"/>
<ellipse cx="607" cy="600" rx="6" ry="1.8" fill="#e4e4e0" opacity="0.7" filter="url(#blur05)"/>
<circle cx="613.5" cy="490" r="1.1" fill="#fff" filter="url(#blur05)"/>
<path d="M598.2,464 C598.6,472 599.2,480 599.6,486 C600.2,487.6 601.6,487.6 602,486 C602.2,480 602.1,472 602.4,464 Z" fill="url(#ihyp)" filter="url(#blur05)"/>
<path d="M590,461 Q596,466 599.5,467.5 Q604,466 610,461 L608,459 Q603,463 599.5,463.5 Q596,463 592,458 Z" fill="#0f4c80" filter="url(#blur05)"/>
<ellipse cx="599.5" cy="466" rx="3.6" ry="2.6" fill="#145a98" filter="url(#blur05)"/>
<path d="M573.10,448.30 C573.45,446.60 574.18,444.48 575.20,443.20 C576.22,441.92 577.50,441.08 579.20,440.60 C580.90,440.12 583.52,440.03 585.40,440.30 C587.28,440.57 588.97,441.20 590.50,442.20 C592.03,443.20 593.67,444.68 594.60,446.30 C595.53,447.92 595.85,450.03 596.10,451.90 C596.35,453.77 596.27,455.88 596.10,457.50 C595.93,459.12 595.87,460.67 595.10,461.60 C594.33,462.53 592.95,462.93 591.50,463.10 C590.05,463.27 588.27,463.02 586.40,462.60 C584.53,462.18 582.08,461.45 580.30,460.60 C578.52,459.75 576.90,458.70 575.70,457.50 C574.50,456.30 573.53,454.93 573.10,453.40 C572.67,451.87 572.75,450.00 573.10,448.30 Z" fill="url(#icot)" filter="url(#blur05)"/>
<path d="M606.80,447.30 C607.40,445.77 608.53,444.22 609.90,443.20 C611.27,442.18 613.13,441.58 615.00,441.20 C616.87,440.82 619.05,440.65 621.10,440.90 C623.15,441.15 625.68,441.80 627.30,442.70 C628.92,443.60 630.03,444.85 630.80,446.30 C631.57,447.75 631.98,449.53 631.90,451.40 C631.82,453.27 631.25,455.80 630.30,457.50 C629.35,459.20 627.73,460.58 626.20,461.60 C624.67,462.62 622.97,463.27 621.10,463.60 C619.23,463.93 616.87,463.93 615.00,463.60 C613.13,463.27 611.18,462.62 609.90,461.60 C608.62,460.58 607.90,459.03 607.30,457.50 C606.70,455.97 606.38,454.10 606.30,452.40 C606.22,450.70 606.20,448.83 606.80,447.30 Z" fill="url(#icot)" filter="url(#blur05)"/>
<ellipse cx="580" cy="450" rx="3" ry="5" fill="#14607e" opacity="0.5" filter="url(#blur2)"/>
<ellipse cx="627" cy="452" rx="3" ry="5" fill="#14607e" opacity="0.45" filter="url(#blur2)"/>
<ellipse cx="591" cy="458" rx="3" ry="3" fill="#081e3a" opacity="0.5" filter="url(#blur1)"/>
<ellipse cx="612" cy="452" rx="3.5" ry="5" fill="#081e3a" opacity="0.45" filter="url(#blur1)"/>
<circle cx="588.5" cy="458.6" r="0.9" fill="#dfe8f0" filter="url(#blur05)"/>
<ellipse cx="621" cy="461" rx="1.3" ry="0.8" fill="#dfe8f0" filter="url(#blur05)"/>
<ellipse cx="619.5" cy="465.5" rx="1.5" ry="0.6" fill="#f4f0e4" filter="url(#blur05)"/>
<line x1="617.4" y1="605.6" x2="648" y2="605.6" stroke="#111" stroke-width="1.5"/>
<text x="632" y="602.7" font-size="6.4" text-anchor="middle" textLength="15.8" lengthAdjust="spacingAndGlyphs">1 mm</text>
</svg></body></html>
